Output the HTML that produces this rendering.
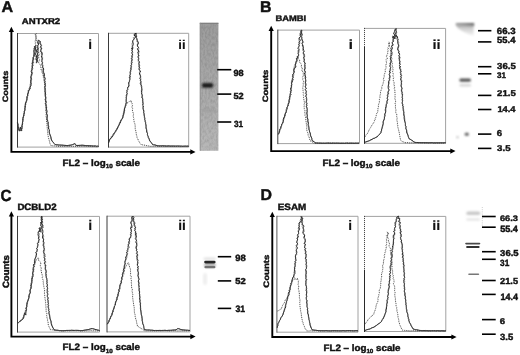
<!DOCTYPE html>
<html><head><meta charset="utf-8"><title>Figure</title>
<style>html,body{margin:0;padding:0;background:#fff;width:520px;height:355px;overflow:hidden}svg{display:block;text-rendering:geometricPrecision}</style>
</head><body>
<svg width="520" height="355" viewBox="0 0 520 355">
<defs>
<filter id="tex" x="0" y="0" width="100%" height="100%" filterUnits="objectBoundingBox"><feTurbulence type="fractalNoise" baseFrequency="0.55 0.3" numOctaves="2" seed="5" result="n"/><feColorMatrix in="n" type="matrix" values="0 0 0 0 0  0 0 0 0 0  0 0 0 0 0  1.6 0 0 0 -0.55" result="m"/><feComposite in="m" in2="SourceGraphic" operator="in"/></filter>
<filter id="bl1" x="-30%" y="-100%" width="160%" height="300%"><feGaussianBlur stdDeviation="0.5"/></filter>
<filter id="bl2" x="-30%" y="-100%" width="160%" height="300%"><feGaussianBlur stdDeviation="0.9"/></filter>
<linearGradient id="gA" x1="0" y1="0" x2="0" y2="1"><stop offset="0" stop-color="#9c9c9c"/><stop offset="0.45" stop-color="#a8a8a8"/><stop offset="1" stop-color="#b8b8b8"/></linearGradient>
<linearGradient id="gBh" x1="0" y1="0" x2="1" y2="0"><stop offset="0" stop-color="#a0a0a0"/><stop offset="0.5" stop-color="#888"/><stop offset="1" stop-color="#666"/></linearGradient>
<linearGradient id="gB" x1="0" y1="0" x2="0" y2="1">
<stop offset="0" stop-color="#b0b0b0"/><stop offset="0.45" stop-color="#d6d6d6"/><stop offset="1" stop-color="#f6f6f6"/></linearGradient>
</defs>
<rect width="520" height="355" fill="#fff"/>
<path d="M11.4 31.3V151.9H191.0" fill="none" stroke="#000" stroke-width="1.9"/>
<path d="M11.4 26.8L8.8 32.0L14.0 32.0Z" fill="#000"/>
<path d="M195.5 151.9L190.3 149.3L190.3 154.5Z" fill="#000"/>
<path d="M17.5 33.5H98.5V147.1H17.5" fill="none" stroke="#a2a2a2" stroke-width="1"/>
<line x1="17.5" y1="33.0" x2="17.5" y2="147.6" stroke="#3a3a3a" stroke-width="1"/>
<path d="M108.5 33.3H188.7V147.1H108.5" fill="none" stroke="#a2a2a2" stroke-width="1"/>
<line x1="108.5" y1="32.8" x2="108.5" y2="147.6" stroke="#3a3a3a" stroke-width="1"/>
<polyline points="17.50,122.00 17.37,123.15 17.98,123.90 17.93,124.98 18.18,126.12 17.93,126.81 18.58,127.97 18.67,128.81 18.96,130.08 19.33,131.17 20.01,129.82 19.69,129.02 20.55,127.95 20.30,126.97 20.43,127.89 20.96,129.00 21.08,129.90 21.32,130.98 21.47,129.82 21.95,129.02 21.93,127.88 22.29,127.14 21.79,125.93 22.33,125.09 22.60,123.97 22.64,123.07 22.35,122.04 22.96,121.15 22.84,120.04 22.63,118.88 23.41,117.96 23.06,117.02 23.67,116.08 23.64,114.97 24.01,114.13 24.27,112.95 24.49,111.77 24.18,111.10 25.15,110.05 24.70,108.83 24.90,108.25 25.26,107.02 25.45,105.86 25.21,105.24 25.54,103.98 25.48,103.03 26.46,101.72 26.54,101.18 26.91,100.14 27.05,99.01 27.00,97.96 26.66,97.22 27.45,95.82 27.59,94.99 27.64,93.91 28.14,93.08 28.53,91.97 28.14,90.83 28.61,90.05 29.94,89.19 30.37,88.20 30.06,87.22 30.95,85.73 30.48,84.68 31.46,83.83 30.65,83.08 30.98,81.71 30.76,81.02 30.80,79.84 31.56,78.97 31.06,77.98 30.73,76.92 31.37,75.78 31.02,75.29 31.68,73.79 31.91,73.23 31.16,71.64 31.43,71.16 31.53,70.16 32.40,69.03 31.80,68.37 32.77,67.01 31.98,66.12 32.34,65.06 32.33,64.10 32.03,62.84 33.59,62.30 32.65,61.29 32.76,60.36 33.59,58.93 32.89,57.59 34.06,56.61 34.09,56.39 33.80,54.72 34.44,54.41 34.29,53.01 33.86,51.87 33.69,51.15 34.24,49.73 33.82,49.15 34.31,48.00 34.52,47.34 35.73,45.56 34.56,46.84 36.07,48.25 35.01,48.74 35.71,50.30 36.26,50.86 36.26,52.16 35.66,53.42 35.32,54.19 35.16,54.72 36.64,55.76 36.47,57.08 36.69,57.89 35.95,58.83 36.90,60.09 37.27,61.32 36.18,62.04 36.37,62.63 36.36,62.30 37.54,61.27 36.86,60.09 37.62,58.90 37.31,57.77 36.53,56.80 37.93,56.05 38.03,54.96 36.97,54.25 37.95,52.58 37.72,51.64 36.79,51.34 36.69,49.77 38.49,48.93 37.06,47.70 37.41,47.22 37.28,46.37 37.90,45.43 39.01,43.81 37.92,42.98 37.75,42.14 38.23,40.14 40.47,41.54 40.21,42.82 40.16,43.60 41.37,45.43 41.59,45.65 40.34,47.11 41.83,48.04 41.42,49.14 40.78,50.04 40.95,50.78 40.65,51.81 42.30,52.95 41.81,54.12 42.38,54.91 41.40,55.85 41.51,57.29 42.55,57.84 41.73,59.06 42.23,60.12 41.79,60.67 41.89,61.74 42.48,62.76 41.83,64.24 42.28,65.38 42.69,66.46 42.27,67.19 43.35,67.89 43.67,68.99 43.51,70.62 43.67,71.14 42.73,72.31 44.14,73.20 44.33,74.14 44.58,75.11 43.98,76.79 44.89,77.84 45.17,78.77 45.00,79.41 44.70,80.44 45.12,81.82 44.56,82.45 45.53,83.99 45.04,84.85 45.46,85.82 44.93,86.79 44.81,87.62 45.33,88.91 45.29,89.72 45.08,90.77 44.86,91.85 45.73,92.94 45.29,94.07 45.15,94.70 45.53,96.00 45.72,96.96 45.80,98.13 45.39,99.00 45.73,99.84 45.73,101.03 46.32,102.23 45.74,103.08 45.59,103.77 46.14,105.20 45.86,106.14 46.66,106.90 46.57,108.18 46.36,109.10 46.79,110.05 46.99,111.20 47.17,112.04 46.56,112.88 46.70,114.03 47.26,114.79 47.28,116.10 47.10,117.01 47.04,118.11 47.04,119.22 47.74,120.06 47.46,121.18 48.14,121.84 48.13,123.15 48.19,124.08 48.17,125.18 48.69,125.95 48.71,126.97 48.46,127.93 48.62,129.16 49.36,129.85 49.31,130.97 49.19,131.92 49.46,133.09 49.51,133.89 50.08,134.83 50.50,136.04 50.93,136.90 50.94,138.01 51.25,139.03 51.56,140.06 52.14,141.10 52.98,141.89 53.50,142.86 54.37,143.65 54.95,144.44 55.83,144.69 56.83,144.77 58.02,144.94 59.12,145.04 59.84,145.00 61.03,145.05 62.00,145.16 63.01,145.12 63.97,145.32 64.92,145.37 66.12,145.52 67.00,145.58 67.95,145.52 68.78,145.34 70.04,145.31 71.15,145.00 72.22,144.79 73.15,144.37 74.11,144.14 74.91,143.50 75.55,144.56 75.94,145.36 76.95,145.43 77.96,145.50 79.04,145.42 80.17,145.37 81.00,145.32 82.06,145.24 83.06,145.25 84.06,145.39 85.19,145.51 86.15,145.58 87.14,145.61 87.93,145.58 89.09,145.83 90.02,145.70 91.21,145.85 92.11,145.77 93.19,146.02 94.22,145.96 95.38,145.91 96.38,146.23 97.52,146.12 98.50,146.20" fill="none" stroke="#1a1a1a" stroke-width="0.95" stroke-linejoin="round"/>
<polyline points="17.50,122.00 17.70,122.87 18.13,124.18 17.90,125.07 17.87,125.89 18.07,127.08 18.16,128.19 18.21,128.88 18.73,130.10 19.42,130.99 19.64,130.05 19.94,128.89 20.20,127.92 20.23,127.13 20.87,128.07 21.25,128.96 21.17,129.97 21.44,131.06 21.29,129.99 21.75,128.94 21.51,128.08 21.61,127.03 21.81,125.81 21.94,124.82 22.02,124.08 22.56,122.94 22.62,121.99 22.67,121.17 22.68,120.16 23.15,119.08 22.76,117.81 22.94,116.93 23.88,116.18 24.04,114.82 24.18,114.13 24.52,113.14 24.18,111.84 24.87,111.12 25.06,109.97 25.17,108.81 25.34,108.20 24.84,106.77 25.15,106.10 25.05,104.76 25.24,104.18 25.30,103.24 25.72,101.84 25.83,101.27 26.93,99.90 26.28,99.09 27.36,97.72 27.30,97.21 27.32,96.04 27.93,94.84 27.54,94.10 28.16,93.02 28.20,92.27 28.45,91.11 29.48,89.94 28.96,88.82 29.46,87.77 29.89,86.90 30.57,85.97 31.31,85.12 31.37,83.91 31.37,83.03 30.69,82.03 30.97,81.12 31.56,79.82 31.18,78.97 31.02,77.67 30.77,77.35 31.82,75.96 31.81,74.83 31.97,74.33 32.16,72.97 32.56,72.31 31.30,70.93 31.97,69.83 32.31,68.73 32.60,68.28 31.65,67.15 32.05,66.11 32.80,65.38 33.08,63.87 33.09,62.72 33.18,61.93 32.58,60.79 32.61,60.24 32.52,58.78 32.79,57.72 33.81,57.07 33.83,56.34 33.60,54.61 33.28,54.01 34.31,53.36 34.09,51.76 34.36,51.38 34.07,50.38 35.24,49.07 34.65,47.67 34.14,46.59 35.20,46.19 35.99,47.09 36.08,47.91 34.65,48.61 35.03,50.03 36.35,50.82 35.14,52.19 35.50,53.05 35.18,54.30 36.57,55.22 36.68,55.86 35.26,56.84 36.78,57.97 35.72,58.71 35.75,59.95 37.22,61.31 37.18,62.21 36.51,63.22 36.60,62.02 36.33,61.32 36.51,60.08 37.42,59.12 37.49,57.89 37.72,57.37 37.47,56.41 37.90,54.62 37.64,53.65 37.66,52.89 38.04,51.60 38.24,50.60 36.72,49.56 36.96,49.43 38.35,48.37 37.31,47.17 38.54,46.21 37.70,45.43 38.67,44.17 37.97,42.90 38.98,42.02 39.08,41.00 39.42,42.07 39.19,42.89 40.89,43.55 40.98,44.80 40.96,46.11 40.19,47.40 40.51,47.67 40.98,48.61 40.50,50.23 40.58,51.04 42.04,51.96 42.00,53.29 40.98,53.64 42.12,55.31 42.32,56.18 41.83,57.38 42.30,58.22 42.67,58.65 42.49,60.11 41.42,60.87 42.64,62.11 42.50,62.94 42.60,64.43 43.35,65.19 43.06,65.85 42.25,67.24 43.39,67.92 42.47,69.24 42.81,69.99 42.70,71.22 43.73,72.06 43.97,73.04 43.41,74.52 43.31,75.32 43.75,76.31 45.00,77.31 45.00,78.89 44.40,79.89 44.55,80.86 44.94,81.61 45.39,82.88 44.69,83.83 44.71,84.68 45.57,86.17 44.64,87.16 45.37,87.61 44.68,88.92 45.67,90.24 44.95,90.97 45.80,91.82 44.89,92.95 45.61,94.23 45.88,94.71 45.14,95.78 45.66,96.94 46.06,98.07 45.80,99.11 45.43,100.23 46.21,101.18 46.19,101.82 45.52,102.93 46.27,103.84 46.49,105.19 46.39,105.99 45.95,107.16 46.07,108.00 46.72,109.07 46.33,110.19 46.50,110.96 46.70,112.10 46.44,113.07 46.93,114.15 46.92,115.03 47.52,115.79 47.46,116.99 47.15,117.90 47.18,119.16 47.27,120.21 47.66,120.91 48.00,122.04 48.22,122.85 48.21,123.80 47.99,124.96 48.23,125.91 48.55,127.10 48.63,128.00 49.06,128.89 49.38,129.82 49.16,131.12 49.26,131.94 49.41,133.17 50.02,133.85 50.14,134.88 50.16,135.90 50.85,137.01 50.94,138.03 51.15,138.95 51.48,140.10 51.94,141.07 52.67,141.85 53.54,142.68 54.27,143.71 54.81,144.41 55.79,144.60 56.83,144.71 57.85,144.81 58.90,144.97 60.14,145.13 60.98,145.21 62.16,145.15 63.21,145.40 63.85,145.41 65.08,145.43 66.09,145.40 67.14,145.60 67.86,145.73 69.10,145.27 69.80,145.10 71.07,145.06 72.19,144.91 72.87,144.31 73.81,143.97 74.96,143.56 75.64,144.58 76.13,145.60 77.12,145.45 77.96,145.41 78.98,145.40 80.15,145.35 80.89,145.27 81.98,145.09 82.83,145.26 84.19,145.41 84.81,145.54 86.10,145.53 86.79,145.52 87.93,145.65 88.84,145.76 90.05,145.84 91.06,145.87 91.96,145.99 93.34,146.05 94.36,145.93 95.22,145.92 96.50,146.20 97.62,146.18 98.50,146.20" fill="none" stroke="#444" stroke-width="0.55" stroke-linejoin="round"/>
<polyline points="17.50,124.00 18.02,125.19 17.74,125.83 18.44,127.09 18.60,127.92 18.81,129.04 19.04,129.87 20.21,130.46 21.62,131.19 21.87,130.02 21.73,128.91 21.63,127.81 22.00,126.93 22.08,126.16 22.30,125.03 22.25,123.80 22.44,122.84 22.68,122.22 22.92,120.86 23.20,120.13 23.23,119.18 23.38,118.13 23.26,117.22 23.84,115.84 23.86,115.10 23.81,114.01 23.98,113.21 24.15,112.16 24.20,111.19 24.78,109.98 24.68,109.22 24.96,107.99 24.72,106.91 25.26,105.82 25.68,104.87 25.94,103.90 26.23,103.11 26.09,102.01 26.46,101.05 26.41,99.83 26.83,99.25 27.18,97.75 27.61,97.13 27.94,95.82 28.03,94.73 28.25,93.86 28.13,93.23 28.31,92.01 29.35,90.84 29.01,90.24 29.52,89.14 29.42,87.91 29.86,87.11 30.06,86.30 30.08,85.15 30.15,83.84 31.09,82.77 30.49,82.13 30.79,80.69 31.55,79.76 30.59,78.89 31.35,78.17 30.89,76.88 30.90,75.96 31.87,75.17 32.15,74.19 32.21,73.15 31.86,71.80 32.20,70.86 31.62,69.96 32.69,68.72 32.44,67.92 32.46,66.72 33.15,65.81 32.80,64.94 32.15,64.05 32.41,62.64 32.38,61.73 32.63,61.11 33.36,60.40 34.11,59.41 33.32,57.95 33.52,57.08 34.21,56.25 34.50,54.79 34.27,54.02 33.84,52.60 34.60,51.66 35.23,50.77 34.37,49.72 34.61,48.75 35.09,47.97 34.83,47.13 34.74,46.37 35.93,45.21 35.18,44.01 35.46,42.58 35.26,42.02 34.94,40.62 35.98,39.87 35.61,39.32 35.84,37.63 36.54,36.63 35.05,35.85 35.26,34.39 36.56,33.67 35.40,34.58 36.25,35.74 36.13,36.96 36.11,37.79 36.73,39.49 36.39,40.38 36.70,41.28 37.15,42.25 37.84,43.26 36.99,44.08 37.06,45.82 38.05,47.00 38.26,47.24 38.34,49.00 38.56,49.83 38.16,50.88 38.93,51.80 38.60,53.02 39.27,54.34 39.29,55.41 38.46,55.93 38.78,57.00 38.76,58.39 39.49,59.35 39.41,59.99 38.85,61.76 38.63,62.33 39.00,63.27 40.55,65.19 40.69,65.71 40.49,66.79 41.22,68.14 41.17,69.02 41.02,70.03 42.30,71.19 41.51,72.01 42.51,72.82 42.97,73.97 42.99,74.93 43.58,76.20 43.33,76.75 43.43,77.67 43.86,79.27 43.64,80.01 44.06,80.93 44.40,82.30 44.47,82.98 44.83,83.89 44.68,85.11 44.78,86.23 44.30,87.08 44.57,88.11 45.24,89.09 44.34,89.98 45.13,91.24 45.15,92.20 44.58,93.27 45.32,94.06 45.53,95.23 44.83,96.19 45.50,96.82 45.52,98.05 45.07,99.18 45.08,100.06 45.39,100.86 45.56,101.98 45.30,103.26 45.24,103.73 45.64,105.18 45.83,106.14 45.74,107.09 45.67,107.88 45.85,108.76 45.57,110.13 45.70,111.13 46.21,111.95 46.20,113.14 46.40,113.82 45.96,114.94 46.24,115.90 45.99,117.03 46.72,117.94 46.49,118.95 46.50,120.17 46.48,121.07 46.66,122.02 46.99,122.82 47.00,123.92 46.95,125.12 47.02,125.96 47.20,126.84 47.21,127.96 47.29,129.14 47.57,130.05 47.44,130.90 47.66,131.90 47.71,133.17 47.76,134.11 48.03,134.95 48.14,135.85 48.34,136.89 48.47,137.93 48.99,139.21 49.10,140.19 49.62,141.16 49.60,142.21 49.95,143.41 50.34,144.39 50.81,145.42 51.84,145.63 52.73,145.77 53.74,145.87 54.99,145.86 55.93,146.07 56.99,146.10 58.06,146.25 59.06,146.35 59.93,146.33 61.07,146.27 61.99,146.22 63.20,146.27 64.04,146.43 64.96,146.46 65.95,146.20 67.04,146.30 68.25,146.45 69.21,146.33 70.15,146.28 71.26,146.33 72.08,146.40 73.05,146.32 74.33,146.26 75.07,146.30 76.12,146.36 77.14,146.35 78.15,146.32 79.29,146.35 80.22,146.48 81.12,146.31 82.41,146.40 83.40,146.32 84.32,146.52 85.27,146.51 86.38,146.41 87.53,146.41 88.36,146.48 89.32,146.55 90.43,146.48 91.42,146.60 92.59,146.56 93.42,146.45 94.46,146.35 95.32,146.62 96.34,146.61 97.55,146.61 98.50,146.50" fill="none" stroke="#3a3a3a" stroke-width="0.95" stroke-dasharray="1 0.9"/>
<polyline points="108.50,143.00 108.74,142.01 109.17,141.03 109.66,139.86 110.14,139.11 111.07,137.91 112.27,136.99 112.76,136.11 113.22,135.11 113.79,134.47 114.30,133.54 114.96,132.41 115.59,131.72 115.87,130.62 116.74,129.82 117.15,129.01 117.65,128.07 117.93,127.05 118.46,126.14 119.27,124.83 119.22,123.88 120.32,122.97 120.55,121.91 120.95,120.95 121.31,120.04 121.98,119.18 122.55,118.20 122.96,117.23 123.07,115.84 123.50,115.22 123.80,114.03 123.90,112.86 124.27,112.04 124.04,110.78 124.83,110.25 124.36,109.04 124.91,107.58 125.05,106.79 125.87,105.29 125.87,104.17 126.22,103.21 126.48,102.50 126.17,101.45 126.05,99.86 126.44,98.76 126.09,97.91 126.62,96.70 126.07,96.05 126.45,95.04 127.21,93.63 126.79,92.65 127.09,91.63 127.07,90.58 127.90,89.40 127.64,88.44 127.75,87.07 129.04,86.11 128.86,84.68 128.84,83.99 128.47,82.95 129.42,81.51 129.57,80.73 129.79,79.58 129.98,78.79 129.19,77.25 130.25,76.83 129.77,75.42 130.37,74.27 130.16,73.21 130.29,72.37 130.31,71.16 131.12,69.84 130.94,69.33 130.67,67.89 131.54,66.85 130.72,65.95 131.59,64.69 131.08,63.87 131.97,62.95 132.09,61.73 131.34,61.12 132.31,59.96 131.31,58.69 131.89,57.74 132.43,57.28 131.47,55.81 132.56,55.12 132.60,53.87 131.48,52.82 132.67,51.80 131.93,50.93 132.10,49.92 133.03,48.69 131.43,48.40 133.05,47.44 132.28,46.41 133.33,44.75 133.15,44.31 133.15,43.02 132.60,41.85 132.64,40.59 133.47,39.80 134.29,38.57 134.88,38.19 135.32,37.38 135.52,36.07 134.01,35.24 134.55,33.80 136.12,33.32 135.93,35.08 136.62,35.85 136.14,37.35 136.81,38.27 136.79,38.71 137.37,40.30 136.83,41.27 138.39,42.29 138.35,42.54 138.14,44.33 137.14,44.79 137.60,46.02 137.95,46.98 138.65,47.55 137.42,48.67 137.61,49.62 139.17,51.31 137.68,52.00 138.14,52.91 138.26,54.27 138.71,55.10 138.10,56.15 138.05,57.41 139.08,58.34 138.10,59.24 138.63,60.67 139.34,61.56 139.42,62.83 138.89,63.70 139.09,64.98 139.08,65.99 139.24,66.65 139.45,68.02 138.86,68.83 139.49,70.19 140.34,70.82 140.38,72.15 139.56,72.92 139.46,74.20 140.33,75.26 140.61,76.12 140.62,77.05 139.85,78.06 139.83,78.75 140.97,79.68 140.16,80.72 141.30,81.78 140.28,83.23 140.51,84.23 141.32,85.22 141.77,86.05 141.67,86.70 141.72,88.01 141.75,88.75 141.88,90.28 141.15,90.89 141.84,92.20 141.55,92.80 141.66,94.07 142.33,94.94 141.98,95.94 142.06,96.95 141.86,98.00 142.92,98.95 142.76,99.81 142.80,101.14 142.88,102.01 142.78,103.08 143.30,103.81 142.60,105.13 143.51,106.01 143.14,107.12 143.00,107.88 143.12,109.04 143.33,109.86 143.84,111.28 143.64,112.21 143.91,113.34 144.23,114.11 144.08,115.05 144.46,116.27 144.37,117.32 144.66,118.56 144.69,119.71 145.12,120.59 145.28,121.75 145.69,122.67 145.59,123.79 146.01,124.71 146.07,125.99 146.03,126.74 146.02,127.99 146.47,129.13 146.73,129.90 146.55,130.96 146.81,132.18 147.47,133.30 147.36,134.33 147.64,135.22 148.13,136.16 148.18,137.35 148.69,138.13 149.24,139.18 149.35,140.01 149.97,141.00 150.51,141.90 151.52,142.72 151.97,143.51 152.50,144.55 153.51,144.87 154.94,144.90 156.03,145.24 157.04,145.61 157.91,145.85 159.07,145.90 159.90,145.91 161.20,145.90 162.02,145.76 163.00,145.84 164.09,145.95 165.03,145.83 166.06,145.97 166.86,146.06 168.07,145.86 169.18,145.88 169.93,146.06 171.08,146.03 172.14,146.01 173.04,145.94 173.97,146.11 175.30,146.07 176.34,146.03 177.17,146.04 178.47,145.96 179.35,146.03 180.50,146.07 181.36,146.09 182.48,146.21 183.44,146.24 184.38,146.09 185.41,146.06 186.74,146.24 187.53,146.10 188.70,146.20" fill="none" stroke="#1a1a1a" stroke-width="0.95" stroke-linejoin="round"/>
<polyline points="108.50,143.00 109.10,141.99 109.34,141.07 109.45,139.86 110.45,138.88 111.14,138.13 112.21,136.87 112.34,136.02 113.33,135.06 113.55,134.20 114.06,133.47 114.66,132.54 115.57,131.77 115.95,130.91 116.55,129.96 116.83,128.82 117.55,128.08 118.08,126.92 118.32,125.88 118.80,125.20 119.77,124.17 119.99,123.09 120.30,121.99 120.67,120.96 121.23,119.82 122.25,118.82 122.66,118.09 122.32,116.99 123.34,116.23 123.24,115.13 123.63,113.90 123.76,113.05 123.88,112.16 124.19,111.13 124.10,109.97 124.32,108.96 125.36,107.79 125.31,106.71 125.23,105.47 125.83,104.50 125.88,103.29 125.91,102.26 126.35,101.07 126.45,100.30 126.37,99.31 126.21,98.21 126.15,96.82 126.94,95.55 126.80,94.99 127.26,93.81 126.65,92.53 127.07,91.30 126.43,90.74 127.51,89.19 127.63,88.16 128.54,87.06 128.72,86.26 128.57,84.84 128.98,83.87 129.22,82.76 129.64,81.76 128.91,80.94 130.08,79.81 129.76,78.89 130.45,77.21 129.98,76.15 129.89,75.26 130.18,74.53 130.88,73.17 129.77,72.67 131.01,71.29 130.15,69.86 131.49,69.17 131.50,68.32 131.46,67.29 130.82,65.80 131.18,65.21 131.82,64.20 131.57,62.98 131.03,62.13 131.85,61.01 132.05,60.39 132.49,58.68 131.49,58.09 132.24,56.82 132.72,55.97 132.49,54.62 131.70,53.59 132.62,53.02 132.95,52.09 131.89,50.87 132.02,49.73 131.58,49.13 131.99,47.96 132.74,46.80 132.29,45.84 132.23,45.15 131.96,43.91 132.12,43.16 132.62,42.43 133.12,41.15 133.35,40.30 134.08,39.13 133.20,37.66 134.99,36.92 135.67,36.13 135.60,35.24 136.12,34.15 136.67,33.23 135.64,34.27 135.92,36.38 136.93,36.56 135.94,37.96 137.16,38.87 136.39,39.77 138.16,41.21 138.20,41.78 138.06,42.72 137.53,44.42 137.44,44.81 137.51,46.33 138.43,47.08 138.78,47.97 138.95,49.25 137.92,49.77 138.40,50.95 138.90,52.13 138.87,53.16 138.11,54.35 139.38,55.33 138.97,56.07 138.04,57.32 138.88,58.63 138.74,59.55 138.17,60.21 138.28,61.51 138.54,62.44 138.75,63.67 139.60,65.16 139.96,66.02 138.55,66.65 140.16,68.02 140.04,68.65 139.21,69.60 139.74,70.82 139.76,71.66 139.21,72.87 140.61,74.08 140.20,74.67 140.11,75.91 140.48,76.93 140.81,77.84 140.81,78.65 140.12,80.21 141.17,80.86 140.40,82.31 141.02,82.72 141.63,84.04 140.84,85.00 141.04,86.05 141.19,86.92 141.68,87.87 141.89,89.16 142.11,89.78 142.10,91.13 141.39,92.26 141.86,92.80 141.61,94.30 142.38,94.84 142.57,95.72 142.44,97.08 142.72,98.24 142.66,99.20 142.46,100.25 142.53,101.13 142.96,101.95 143.13,103.12 142.56,104.05 142.99,105.05 142.64,106.11 143.10,107.12 143.05,107.75 143.37,109.07 143.76,110.02 144.01,110.89 143.49,112.06 144.13,113.29 143.78,114.27 144.19,115.29 144.14,116.17 144.76,117.31 145.20,118.44 144.85,119.35 145.16,120.55 145.11,121.80 145.46,122.77 145.74,123.84 145.46,124.94 145.97,125.66 146.12,126.67 146.15,127.74 146.05,128.93 146.72,130.10 147.03,131.16 147.07,132.14 147.53,133.02 147.51,134.22 147.47,135.38 148.10,136.24 148.56,137.23 148.92,138.20 149.39,139.12 149.39,140.14 149.87,141.02 150.86,141.94 151.10,142.85 152.16,143.61 152.49,144.49 153.69,144.63 154.91,145.06 155.80,145.37 156.78,145.65 158.15,145.79 158.83,145.80 159.83,145.85 160.85,145.86 161.96,145.82 163.04,145.89 164.16,145.88 165.03,145.98 165.86,145.94 166.86,145.95 168.00,146.08 169.20,145.93 170.15,145.96 170.93,146.04 171.99,146.15 173.29,145.90 174.36,146.15 175.04,146.10 176.26,145.97 177.36,145.94 178.25,146.09 179.48,146.07 180.30,146.10 181.44,146.09 182.30,146.23 183.38,146.06 184.42,146.29 185.40,146.20 186.65,146.10 187.78,146.10 188.70,146.20" fill="none" stroke="#444" stroke-width="0.55" stroke-linejoin="round"/>
<polyline points="108.50,142.00 108.76,140.88 109.19,139.89 109.41,138.97 110.37,138.28 110.88,137.27 111.36,136.47 111.77,135.59 112.37,135.06 113.25,134.20 113.82,133.16 114.16,132.50 114.96,131.77 115.62,130.66 116.06,130.07 116.46,128.98 116.90,128.05 117.62,127.47 117.86,126.35 118.53,125.57 118.97,124.79 119.21,123.71 119.72,122.83 119.90,121.88 120.77,120.87 120.73,120.23 121.34,119.30 121.92,118.32 122.74,117.36 122.60,116.35 123.01,115.37 123.07,114.58 123.30,113.47 123.99,112.23 123.61,111.28 124.40,110.46 124.25,109.30 124.46,108.35 124.60,107.46 125.55,106.58 125.68,105.58 125.34,104.20 126.40,103.45 126.92,103.11 128.10,102.61 128.82,101.83 130.25,101.10 131.50,100.86 131.57,101.35 131.43,102.47 132.18,103.60 131.87,104.48 132.56,105.68 132.04,106.52 132.03,107.60 132.64,108.62 132.29,109.86 132.61,111.18 132.67,112.01 133.30,113.02 133.60,114.12 133.22,115.16 133.23,116.23 133.53,117.51 134.07,118.40 133.69,119.36 133.98,120.40 134.13,121.76 134.23,122.46 134.86,123.73 135.05,124.71 135.14,125.86 135.22,126.95 135.20,127.74 135.19,129.10 135.72,130.16 135.60,131.06 136.03,132.05 136.22,133.01 136.33,134.07 136.33,135.15 136.84,135.85 137.03,137.16 137.08,137.85 137.70,138.81 138.26,139.91 138.40,140.68 139.17,141.74 139.74,142.77 140.06,143.42 140.86,144.36 141.87,144.59 142.88,144.98 143.94,145.11 144.97,145.21 145.93,145.45 147.04,145.78 147.92,145.91 148.80,145.97 150.03,146.30 151.15,146.34 151.91,146.27 153.15,146.32 153.90,146.42 155.21,146.21 156.13,146.30 157.23,146.28 158.05,146.34 159.33,146.23 160.05,146.39 161.34,146.36 162.20,146.46 163.34,146.25 164.39,146.29 165.21,146.47 166.27,146.47 167.20,146.49 168.22,146.30 169.35,146.35 170.38,146.52 171.46,146.27 172.34,146.43 173.42,146.48 174.44,146.31 175.37,146.53 176.43,146.51 177.67,146.48 178.58,146.48 179.47,146.57 180.54,146.57 181.50,146.57 182.69,146.50 183.59,146.37 184.72,146.44 185.70,146.38 186.52,146.39 187.79,146.40 188.70,146.50" fill="none" stroke="#3a3a3a" stroke-width="0.95" stroke-dasharray="1 0.9"/>
<rect x="199.8" y="22.8" width="18.6" height="128" fill="url(#gA)"/>
<rect x="199.8" y="22.8" width="18.6" height="128" fill="#000" filter="url(#tex)" opacity="0.13"/>
<rect x="199.8" y="22.8" width="18.6" height="1.2" fill="#808080"/>
<rect x="199.8" y="22.8" width="0.8" height="128" fill="#909090"/>
<rect x="201.8" y="83.1" width="11.5" height="4.6" rx="2.0" fill="#1e1e1e" opacity="1.00" filter="url(#bl2)"/>
<rect x="201.0" y="109.9" width="15.0" height="1.6" rx="0.8" fill="#959595" opacity="1.00" filter="url(#bl2)"/>
<line x1="217.2" y1="69.7" x2="231.3" y2="69.7" stroke="#000" stroke-width="1.6"/>
<line x1="217.2" y1="94.1" x2="231.3" y2="94.1" stroke="#000" stroke-width="1.6"/>
<line x1="217.2" y1="122.0" x2="231.3" y2="122.0" stroke="#000" stroke-width="1.6"/>
<path d="M271.2 30.3V151.1H451.0" fill="none" stroke="#000" stroke-width="1.9"/>
<path d="M271.2 25.8L268.6 31.0L273.8 31.0Z" fill="#000"/>
<path d="M455.5 151.1L450.3 148.5L450.3 153.7Z" fill="#000"/>
<path d="M277.8 30.1H359.5V143.6H277.8" fill="none" stroke="#a2a2a2" stroke-width="1"/>
<line x1="277.8" y1="29.6" x2="277.8" y2="144.1" stroke="#3a3a3a" stroke-width="1"/>
<path d="M364.5 28.4H445.6V143.3H364.5" fill="none" stroke="#a2a2a2" stroke-width="1"/>
<line x1="364.5" y1="27.9" x2="364.5" y2="47.0" stroke="#333" stroke-width="1" stroke-dasharray="1 1"/>
<line x1="364.5" y1="47.0" x2="364.5" y2="143.8" stroke="#2a2a2a" stroke-width="1"/>
<polyline points="278.40,134.40 278.87,133.29 279.38,132.16 279.75,131.03 279.69,129.74 280.70,128.68 281.07,127.35 281.18,126.40 281.63,125.53 281.65,124.38 282.24,123.68 282.92,122.25 283.27,121.14 283.45,120.03 283.28,119.27 283.76,117.87 284.72,117.13 284.46,116.14 284.99,114.96 285.02,114.05 285.77,113.03 286.32,111.63 286.21,110.50 286.37,109.38 286.88,108.59 286.95,107.56 287.64,106.30 288.38,105.31 288.14,104.24 288.80,102.93 289.34,101.83 289.38,101.22 288.86,100.11 289.49,98.92 289.36,97.54 289.70,96.95 289.87,95.72 290.86,94.72 290.35,93.25 290.71,92.40 290.38,91.27 291.36,90.23 290.58,89.26 290.78,87.84 291.57,87.19 291.37,86.17 291.77,84.73 291.62,83.61 291.45,82.56 292.43,82.07 291.91,80.35 293.21,79.62 292.60,78.35 293.05,77.70 293.04,76.34 292.66,75.63 292.80,74.26 294.14,72.93 294.17,72.47 294.21,71.28 293.62,69.95 293.91,69.26 294.36,67.96 295.68,67.27 295.88,65.96 295.37,65.18 295.59,63.83 295.71,62.72 295.90,62.39 297.16,61.05 296.73,59.75 296.37,58.64 297.82,58.08 297.44,56.95 298.45,55.82 298.58,54.82 298.14,53.72 298.07,52.48 299.00,51.60 298.24,50.77 298.94,49.39 297.88,48.30 298.38,47.36 298.83,46.44 299.25,45.37 298.77,44.17 299.57,43.29 298.92,42.25 299.97,41.05 300.26,40.24 299.46,38.78 298.85,38.02 300.60,36.50 300.38,35.56 300.71,33.85 301.06,33.08 301.16,31.96 301.41,31.34 301.77,30.32 300.66,30.90 301.58,32.50 301.24,33.67 302.16,34.17 301.94,35.48 301.23,36.52 301.85,37.69 301.75,38.68 302.41,40.13 302.83,41.44 302.27,42.86 301.97,43.51 302.57,44.55 302.35,45.96 302.91,46.27 303.42,47.35 303.37,48.60 303.51,50.18 304.01,50.73 304.07,51.95 303.38,52.55 303.85,53.94 304.54,55.31 304.03,55.82 304.58,56.55 303.35,58.05 304.26,58.70 304.36,60.32 304.03,60.94 303.86,61.83 305.12,62.90 305.17,64.33 304.67,64.81 305.34,66.00 304.55,66.86 305.48,67.99 304.50,68.98 304.34,70.09 304.87,70.86 305.42,72.28 304.35,73.08 304.79,74.40 305.56,74.91 304.89,75.87 305.94,76.99 305.47,78.13 305.57,79.24 305.75,79.93 305.82,81.07 305.57,82.12 305.32,83.27 305.59,84.17 306.00,85.35 305.15,86.14 305.74,87.59 306.32,88.37 305.31,89.54 305.86,90.43 306.25,91.48 306.03,92.67 305.96,93.37 306.55,94.27 305.96,95.67 305.75,96.69 306.50,97.47 306.10,98.70 306.82,99.35 306.41,100.60 306.47,101.50 306.17,102.66 306.89,103.39 306.35,104.82 306.96,105.75 306.25,106.80 307.22,107.97 307.00,108.49 307.18,109.60 307.04,110.99 307.14,111.60 306.82,113.01 306.80,113.88 307.15,114.68 307.44,115.65 307.12,116.83 307.21,117.71 307.73,119.04 308.08,119.79 307.84,120.90 308.08,122.00 308.50,123.07 308.02,124.34 308.27,125.44 308.69,126.68 308.89,127.69 308.87,128.79 309.04,130.00 309.48,130.78 309.57,131.89 310.14,132.83 310.39,134.02 310.29,135.04 310.57,135.87 311.25,137.06 311.80,138.29 311.91,139.55 312.16,140.67 312.98,141.09 314.22,141.86 314.67,142.28 315.82,143.05 316.85,142.94 317.86,143.06 318.78,143.10 320.05,143.15 320.95,143.09 322.15,143.24 323.14,143.18 324.16,143.21 325.04,143.22 326.11,143.17 326.81,143.06 327.86,143.06 329.18,143.19 330.12,143.05 330.99,143.32 332.06,143.18 332.98,143.08 333.84,143.10 334.94,143.17 336.18,143.10 336.89,143.13 337.84,143.14 338.88,143.19 339.78,143.33 340.94,143.33 342.09,143.25 342.99,143.33 343.82,143.25 344.90,143.25 346.11,143.10 346.86,143.06 347.87,143.07 348.95,143.34 349.94,143.14 350.99,143.13 352.11,143.27 352.84,143.12 354.08,143.33 355.07,143.18 356.22,143.05 356.80,143.28 357.96,143.06 359.00,143.20" fill="none" stroke="#1a1a1a" stroke-width="0.95" stroke-linejoin="round"/>
<polyline points="278.40,134.40 279.03,133.15 279.38,132.17 279.48,130.98 279.89,129.62 280.30,128.72 280.56,127.56 281.10,126.37 281.55,125.45 281.97,124.66 282.71,123.38 283.09,122.45 283.39,121.44 283.38,120.09 284.02,119.33 284.10,117.82 284.59,117.08 284.96,116.14 285.37,114.99 285.19,113.86 285.60,112.93 286.08,111.90 286.35,110.71 287.13,109.75 287.48,108.64 287.07,107.42 287.60,106.27 287.69,105.12 288.31,104.40 288.96,103.43 288.94,101.83 288.79,100.78 289.77,99.85 289.88,98.85 289.99,98.01 290.23,96.43 290.37,95.49 290.92,94.32 290.23,93.60 290.58,91.97 291.20,91.38 290.99,89.79 291.59,88.87 290.97,87.65 291.90,86.74 291.09,85.80 291.97,85.19 291.48,83.91 291.70,83.05 292.17,81.86 292.82,80.69 292.51,79.26 292.28,78.67 293.28,77.52 292.47,76.58 293.78,75.59 293.82,74.39 293.43,73.10 293.38,72.24 293.78,71.30 293.80,69.82 293.82,68.83 295.10,68.25 295.55,66.64 295.44,66.05 295.15,65.35 295.91,63.85 296.39,62.95 296.05,61.98 296.37,60.56 297.25,59.72 296.96,58.56 297.47,57.41 296.89,56.47 298.62,55.81 298.68,54.25 298.29,53.75 298.87,52.44 297.79,51.33 299.39,50.72 298.88,49.19 298.93,48.33 298.76,47.52 299.02,45.78 299.40,45.28 298.31,44.06 300.01,43.12 299.53,41.90 299.13,41.33 298.93,39.78 298.65,38.77 299.81,37.88 300.68,36.30 299.43,35.21 299.92,34.58 299.92,32.97 301.82,31.94 301.08,30.99 301.15,29.92 302.27,30.75 300.84,32.66 302.24,33.41 301.86,34.59 301.52,35.68 301.82,36.96 301.88,38.09 301.46,39.59 301.55,40.21 302.39,41.01 303.64,42.43 302.32,43.44 302.41,44.67 303.97,46.08 302.65,46.88 303.33,47.95 302.68,48.34 302.70,50.13 302.67,50.40 303.46,51.45 303.05,53.25 303.14,54.11 304.35,54.88 303.75,55.70 303.63,57.00 304.12,58.03 303.85,59.32 304.08,59.90 304.19,61.28 304.47,62.20 304.89,62.88 304.80,63.68 304.50,64.97 304.43,65.74 305.14,66.88 304.59,67.71 305.37,69.28 304.43,69.92 304.64,70.79 305.49,72.12 305.65,73.20 304.87,74.28 304.61,75.16 305.24,75.81 304.97,77.15 304.80,77.86 305.53,79.50 305.54,80.54 305.46,80.94 305.09,82.20 306.07,83.46 306.24,84.33 306.01,85.32 305.32,86.33 305.51,87.53 306.23,88.16 305.45,89.23 305.37,90.19 306.54,91.66 305.97,92.66 305.74,93.74 306.22,94.53 305.94,95.18 306.28,96.57 306.51,97.68 306.80,98.26 306.58,99.32 306.80,100.59 305.96,101.53 306.88,102.82 307.00,103.64 306.81,104.75 306.66,105.81 306.39,106.54 306.87,107.83 307.26,108.50 307.32,109.64 306.78,110.86 307.40,111.63 306.90,113.00 307.41,113.78 307.02,114.99 307.08,115.80 307.04,116.76 307.51,117.91 307.88,118.99 307.56,119.91 307.69,120.82 307.74,122.20 308.39,123.28 308.50,124.16 308.69,125.40 308.89,126.55 308.95,127.49 309.27,128.85 309.24,129.81 309.57,130.88 309.56,132.03 310.12,133.06 310.56,133.93 310.59,134.83 310.89,136.11 311.16,136.99 311.71,138.26 311.84,139.53 312.35,140.60 313.25,141.19 314.09,141.73 314.67,142.39 315.74,142.95 316.55,142.98 317.73,142.99 318.89,143.17 320.23,143.08 320.89,143.10 321.94,143.31 322.84,143.20 323.97,143.30 325.03,143.35 326.17,143.33 327.13,143.08 327.82,143.34 328.85,143.07 330.05,143.23 330.85,143.18 331.96,143.19 332.93,143.09 334.07,143.15 335.17,143.35 335.78,143.28 337.11,143.14 338.04,143.14 339.17,143.15 340.07,143.13 341.17,143.12 342.21,143.10 342.96,143.26 343.95,143.29 344.85,143.35 346.01,143.32 346.85,143.17 348.00,143.33 349.23,143.17 349.95,143.15 350.80,143.09 352.12,143.08 353.15,143.18 353.86,143.14 354.83,143.24 355.89,143.23 356.98,143.24 357.81,143.27 359.00,143.20" fill="none" stroke="#444" stroke-width="0.55" stroke-linejoin="round"/>
<polyline points="278.40,133.50 278.95,132.54 279.19,131.24 279.33,130.31 279.98,129.27 280.33,128.19 280.67,127.12 281.34,125.96 281.62,125.08 281.81,124.02 282.59,122.90 282.91,122.03 283.26,120.83 283.09,119.98 283.88,118.78 283.72,117.61 284.41,116.60 284.96,115.69 284.74,114.67 285.18,113.76 285.90,112.51 286.08,111.52 286.57,110.57 286.33,109.18 287.15,108.06 287.51,106.87 288.11,106.01 287.74,105.03 288.17,103.71 288.57,102.61 288.60,101.95 289.29,100.41 289.62,99.35 289.49,98.80 290.01,97.39 289.92,96.37 289.82,95.67 289.89,94.27 290.69,93.19 291.06,92.03 291.20,91.37 291.03,90.31 290.95,89.21 291.42,87.99 291.19,87.08 291.24,85.65 291.71,84.74 291.55,84.07 291.32,82.53 291.37,81.89 291.75,80.63 292.04,80.12 292.00,78.77 292.91,77.93 292.39,76.85 292.83,75.63 292.90,74.77 293.60,73.80 293.62,73.29 294.13,71.87 293.94,70.85 293.87,69.99 294.57,69.33 294.14,67.62 294.54,66.66 294.20,66.21 294.50,65.17 295.13,64.38 296.09,62.72 295.52,62.46 296.40,61.07 296.94,60.42 296.86,59.17 296.63,58.12 297.00,57.37 297.95,56.00 298.40,56.89 298.11,58.27 299.02,59.41 299.67,60.17 299.34,61.39 299.63,62.34 301.06,63.69 301.37,64.44 301.45,65.83 300.99,67.01 302.22,67.69 302.30,68.76 301.92,70.03 301.91,71.16 303.28,71.84 303.27,72.71 303.20,73.88 303.36,75.01 303.34,75.75 302.41,77.33 303.08,78.15 302.43,78.92 302.85,79.86 303.58,81.37 303.56,82.35 302.94,82.95 303.39,83.99 303.23,85.25 303.21,86.02 302.81,87.33 302.81,88.35 302.97,89.22 303.01,90.42 303.29,91.23 303.20,92.46 303.94,93.39 303.29,94.35 303.44,95.52 304.02,96.54 303.54,97.41 303.79,98.50 303.88,99.84 304.09,100.66 304.30,101.67 304.45,102.54 304.40,103.89 304.05,104.72 304.30,105.43 304.10,106.82 304.23,107.82 304.30,108.66 304.32,109.76 304.98,110.62 304.88,111.99 304.75,112.79 305.19,114.00 304.91,114.92 305.00,115.68 305.72,116.68 305.80,118.03 305.75,119.04 305.85,119.86 305.84,120.85 306.23,122.12 306.32,123.01 306.34,124.15 306.60,125.49 306.86,126.60 306.82,127.75 306.63,128.81 306.75,129.85 307.05,131.09 307.26,132.09 307.98,132.93 308.16,133.81 308.08,134.81 308.30,135.83 309.08,137.01 309.39,138.22 309.62,139.42 310.07,140.75 311.10,141.28 312.13,141.94 313.04,142.48 313.86,143.32 314.88,143.18 316.12,143.22 317.17,143.29 318.01,143.09 319.04,143.19 320.14,143.21 321.08,143.29 321.99,143.30 323.16,143.10 324.16,143.31 325.14,143.15 325.90,143.09 326.95,143.31 327.95,143.05 328.92,143.07 330.05,143.28 331.17,143.08 331.95,143.09 333.16,143.30 334.01,143.34 335.01,143.28 336.00,143.16 337.19,143.30 338.04,143.31 339.06,143.29 339.83,143.09 340.85,143.23 342.09,143.10 343.00,143.08 344.07,143.28 344.84,143.34 346.06,143.09 346.94,143.10 348.09,143.33 348.87,143.11 350.05,143.31 351.09,143.19 351.85,143.23 352.98,143.29 354.03,143.27 355.18,143.24 356.16,143.13 356.81,143.31 357.82,143.35 359.00,143.20" fill="none" stroke="#3a3a3a" stroke-width="0.95" stroke-dasharray="1 0.9"/>
<polyline points="364.80,142.60 365.71,141.89 366.92,141.49 367.92,141.21 368.73,140.88 369.77,140.48 370.88,139.74 372.16,139.34 373.10,138.51 374.29,138.35 375.19,137.77 376.34,137.25 377.20,136.93 377.58,136.05 378.45,135.47 379.15,134.57 380.20,133.67 380.93,132.74 380.85,131.81 381.47,130.90 381.46,129.98 381.78,128.88 382.24,128.05 382.09,127.02 382.52,126.15 382.89,124.90 383.29,123.82 383.10,123.08 383.11,121.96 383.24,121.02 384.03,119.97 384.34,118.85 384.42,117.96 384.55,116.89 384.99,116.11 384.84,114.98 384.65,114.00 385.32,113.14 385.65,111.79 385.42,110.98 385.24,109.88 385.54,108.70 385.60,108.04 385.82,106.77 386.24,106.10 386.09,104.87 386.73,104.11 387.17,103.10 386.78,101.85 387.02,101.12 387.82,99.70 387.15,98.75 387.31,97.84 387.81,96.66 387.26,95.70 387.77,94.74 388.55,93.77 388.15,92.67 388.45,91.27 388.82,90.68 388.90,89.64 388.42,88.34 388.17,87.44 388.22,86.02 388.50,85.03 388.77,83.90 388.43,82.91 388.66,82.01 388.66,81.31 389.55,79.76 389.13,78.85 389.35,77.64 390.08,77.22 389.62,75.81 389.15,74.49 389.57,73.56 390.34,72.44 389.24,71.98 390.04,70.33 390.13,69.20 390.18,68.88 390.75,67.62 389.90,66.32 389.82,65.59 390.45,64.55 390.20,63.07 391.03,62.64 391.17,61.45 391.19,60.31 390.31,59.04 390.59,57.54 390.12,56.66 390.58,55.92 391.84,54.62 391.89,54.00 392.01,52.37 390.81,51.16 390.94,50.08 391.86,49.64 392.42,48.21 392.26,47.44 391.40,46.26 393.08,45.32 392.96,43.98 392.01,43.27 392.41,42.28 393.73,40.90 392.76,40.42 393.49,38.69 392.45,37.67 394.08,37.30 392.71,36.32 394.73,37.15 393.91,38.05 393.89,38.54 395.39,38.14 394.41,37.42 394.11,36.36 394.76,34.72 393.51,33.80 393.89,33.08 394.32,31.92 394.47,31.40 395.21,29.66 395.97,28.80 395.84,30.01 396.20,30.83 396.45,31.53 396.16,32.69 395.18,34.29 395.39,34.97 396.36,36.05 395.46,37.02 396.41,36.28 396.02,35.06 396.47,35.78 397.65,37.01 397.40,38.25 398.23,38.95 397.81,40.01 397.72,41.20 397.71,42.06 397.86,43.45 398.37,44.40 398.91,44.85 398.31,46.49 398.91,46.77 397.72,48.06 397.74,48.88 397.85,50.27 399.20,51.48 398.20,52.32 399.18,52.83 399.65,54.55 398.63,55.54 399.03,56.15 400.12,57.45 398.84,58.12 399.53,59.05 399.11,60.04 400.06,60.81 399.89,62.16 399.14,63.08 400.19,64.23 399.42,65.61 400.64,66.60 399.70,67.06 399.70,68.46 400.16,68.97 400.48,70.58 401.17,71.09 400.29,72.59 401.00,73.43 400.41,73.97 401.37,75.25 400.55,76.73 401.39,77.75 400.68,78.90 400.72,80.02 401.29,80.77 401.47,82.29 401.16,82.78 401.55,83.89 401.08,84.88 401.07,85.94 401.47,87.05 402.08,88.07 401.82,89.04 401.70,89.98 401.64,91.01 402.27,92.38 401.70,93.37 402.62,94.18 402.54,95.41 402.23,96.69 402.18,97.53 402.56,98.84 402.25,99.79 402.70,100.71 402.44,101.58 402.14,102.50 402.29,103.86 402.61,104.57 402.57,105.96 403.47,106.90 403.03,107.70 403.17,108.84 403.17,109.86 403.40,111.15 404.17,111.97 403.65,113.20 403.83,113.93 403.70,114.97 404.23,116.06 404.13,117.08 404.11,118.00 404.31,119.09 404.40,119.95 404.74,121.07 405.08,122.23 405.33,123.31 405.43,124.43 405.32,125.23 405.97,126.26 406.01,127.56 405.78,128.73 406.57,129.75 406.69,130.92 406.55,131.91 407.00,133.12 407.55,134.05 407.78,135.01 408.20,135.87 408.32,136.57 408.63,137.62 408.99,138.71 410.18,139.29 411.16,139.96 412.04,140.39 413.15,141.28 413.95,141.86 414.98,142.37 416.02,142.45 416.72,142.49 418.04,142.50 419.05,142.76 419.95,142.61 420.95,142.74 422.10,142.75 423.05,142.61 423.82,142.70 425.11,142.74 426.06,142.65 426.85,142.73 428.17,142.86 429.20,142.74 430.16,142.79 431.16,142.68 432.40,142.71 433.47,142.93 434.04,142.79 435.45,142.94 436.31,142.73 437.22,142.94 438.25,142.82 439.25,142.81 440.66,142.69 441.63,142.80 442.69,142.86 443.41,142.92 444.56,142.66 445.60,142.80" fill="none" stroke="#1a1a1a" stroke-width="0.95" stroke-linejoin="round"/>
<polyline points="364.80,142.60 365.68,142.03 367.08,141.67 367.89,141.19 368.77,141.03 370.13,140.42 371.15,139.93 372.41,139.16 373.20,138.50 374.27,138.34 375.28,137.68 376.01,137.26 376.81,137.00 377.58,136.10 378.41,135.33 379.55,134.45 380.19,133.68 380.77,132.83 381.30,132.04 381.51,131.08 381.73,129.87 381.64,128.98 382.12,128.08 382.55,127.11 382.84,126.07 382.85,125.11 382.94,124.11 383.44,122.98 383.26,121.91 383.69,120.98 383.82,119.89 384.23,119.01 384.62,118.13 384.08,116.86 384.91,115.92 384.97,114.78 384.93,114.07 385.35,113.09 385.74,112.11 385.86,111.11 386.06,110.12 385.77,108.85 385.97,108.04 386.65,106.99 386.28,105.68 386.14,104.67 386.32,103.63 386.74,102.79 387.47,101.71 386.74,101.13 387.79,99.91 387.54,98.81 387.49,97.72 387.27,97.08 388.23,95.97 387.52,94.78 387.52,93.78 387.63,92.67 387.83,91.85 388.84,90.45 388.96,89.63 388.16,88.63 389.13,87.19 388.98,86.17 388.27,85.22 388.51,84.41 389.34,82.97 389.06,81.80 389.10,81.12 389.84,80.33 389.63,78.92 390.05,77.97 390.03,76.76 390.21,75.60 389.58,74.58 389.62,73.82 390.50,72.35 390.05,71.43 390.47,70.78 390.77,69.91 390.36,68.33 390.53,67.43 389.91,66.12 390.94,65.33 389.84,64.11 389.89,62.93 390.93,62.22 390.28,61.06 390.31,60.12 390.87,58.67 390.70,58.25 391.27,56.86 390.82,55.61 390.47,54.50 390.49,53.18 390.57,52.91 392.10,51.00 391.21,50.00 391.38,49.38 391.35,48.18 391.40,47.18 391.52,45.95 392.17,44.85 392.48,44.26 392.49,43.32 392.10,42.20 393.46,41.42 393.31,39.82 393.43,39.12 392.98,38.10 392.40,36.53 392.78,36.41 392.87,36.77 394.71,38.37 394.44,39.01 395.27,37.80 393.59,36.78 394.68,35.83 394.27,34.58 394.65,34.45 395.19,32.66 395.71,32.38 394.66,30.92 394.82,29.57 396.33,28.00 396.31,29.89 395.32,30.47 396.96,32.31 395.86,33.38 396.44,33.52 396.50,34.69 395.60,36.31 394.86,37.32 396.02,36.10 396.39,35.07 396.42,36.08 397.01,37.11 396.32,38.22 396.91,39.31 397.55,40.16 397.57,40.66 398.70,42.23 398.78,43.20 397.84,43.96 398.63,45.38 398.70,45.82 397.86,47.00 397.58,47.83 398.26,48.81 398.12,50.17 399.04,50.98 399.40,51.72 398.13,52.87 399.48,53.91 399.51,54.99 399.71,56.15 398.79,57.52 400.22,58.52 399.41,59.25 399.23,60.47 399.51,61.25 399.94,62.56 399.81,63.14 400.67,63.93 399.40,65.08 399.49,66.57 400.29,67.50 399.73,68.22 400.95,68.88 401.00,70.61 401.21,71.01 400.79,72.28 400.87,73.53 400.74,74.07 401.72,75.34 401.38,76.45 401.35,77.26 400.72,78.40 401.23,79.46 401.82,80.64 401.85,82.13 401.04,82.88 401.69,84.40 401.42,84.93 401.25,86.33 401.25,86.89 401.97,88.37 401.44,89.25 401.28,90.21 401.38,91.37 401.90,92.38 402.53,93.33 401.81,94.16 402.23,95.53 402.55,96.45 402.18,97.56 402.61,98.44 402.19,99.80 402.13,100.45 402.48,101.68 402.39,102.87 402.39,103.72 403.34,104.59 402.53,105.94 403.35,106.61 402.85,107.62 403.38,108.68 403.76,109.77 403.73,111.05 403.51,111.71 403.52,112.92 404.30,114.01 403.99,115.03 404.38,115.93 404.67,117.25 404.57,117.96 404.89,119.01 404.83,120.26 404.72,121.02 404.94,122.04 405.46,123.37 405.30,124.17 405.29,125.45 405.87,126.55 405.60,127.43 406.22,128.72 406.09,129.76 406.80,130.80 407.02,131.75 407.12,133.15 407.51,134.10 407.80,134.86 408.23,135.78 408.25,136.73 408.77,137.71 409.40,138.69 410.24,139.19 411.32,139.77 411.95,140.42 412.94,141.19 414.19,141.92 414.79,142.45 415.87,142.65 416.90,142.48 417.88,142.63 419.15,142.57 420.12,142.58 421.07,142.64 422.01,142.80 422.77,142.60 423.83,142.81 425.08,142.93 426.05,142.87 427.26,142.67 428.08,142.81 429.22,142.75 430.32,142.77 430.98,142.66 432.16,142.67 433.34,142.92 434.04,142.84 435.53,142.76 436.20,142.78 437.58,142.65 438.16,142.75 439.24,142.76 440.54,142.95 441.61,142.79 442.69,142.67 443.65,142.78 444.37,142.85 445.60,142.80" fill="none" stroke="#444" stroke-width="0.55" stroke-linejoin="round"/>
<polyline points="364.80,137.00 365.25,136.34 365.78,135.43 366.34,134.45 367.37,133.62 367.77,132.89 368.23,131.91 368.64,131.06 369.13,129.85 369.63,128.88 370.40,128.14 370.93,126.84 371.41,126.30 371.84,125.25 372.58,124.37 373.10,123.48 373.75,122.56 374.56,121.64 374.40,120.37 375.27,119.52 375.10,118.69 375.70,117.56 376.25,116.32 376.22,115.56 376.39,114.47 376.70,113.40 377.48,112.49 377.92,111.24 377.77,110.02 378.18,109.21 377.96,108.42 378.46,107.32 378.38,106.08 378.36,105.14 378.72,104.19 378.96,103.42 379.56,102.06 379.28,101.06 379.67,100.52 379.41,99.41 379.65,97.98 380.23,97.18 379.83,96.24 380.04,95.22 380.39,94.23 380.68,93.16 380.35,92.04 380.51,91.31 381.00,90.47 381.38,89.38 382.10,87.94 381.34,86.96 381.96,86.21 382.58,85.04 383.05,83.78 383.16,82.89 383.44,81.74 383.78,81.21 384.05,80.06 383.33,79.33 383.83,77.70 384.22,77.00 384.27,75.75 384.05,75.06 384.64,73.73 384.83,73.17 385.36,71.98 385.17,70.90 385.16,69.77 385.63,68.70 386.08,68.13 386.03,66.57 385.80,65.86 385.54,65.26 386.50,63.86 386.53,62.59 385.99,61.82 386.77,60.89 385.87,59.84 387.19,58.92 387.31,58.09 386.43,56.49 386.97,56.03 386.81,54.98 387.67,53.56 387.51,52.88 387.91,51.25 388.17,50.10 387.64,49.72 388.52,48.08 387.85,47.29 388.85,46.30 389.17,45.28 389.16,44.11 388.62,42.89 388.98,41.93 389.74,42.75 388.76,44.24 389.29,45.01 389.27,46.45 389.72,47.02 390.73,48.28 390.16,49.68 390.57,50.28 391.48,51.71 391.27,52.30 391.47,53.65 391.59,54.51 391.63,55.93 391.18,56.87 391.83,58.21 392.12,59.09 391.16,60.00 392.01,60.63 391.82,62.32 392.51,63.42 391.55,64.22 392.66,65.31 392.06,65.88 392.93,67.58 392.70,68.26 393.03,69.66 393.00,70.55 392.61,71.38 392.77,72.46 393.07,73.37 393.42,74.60 392.87,75.59 393.25,76.78 393.81,77.60 393.28,78.80 393.34,80.17 393.35,80.69 393.92,82.16 394.29,83.04 393.83,84.26 394.35,84.99 394.25,86.29 394.78,87.28 393.96,87.89 394.33,88.79 394.76,89.72 394.95,91.07 394.73,91.98 395.11,93.10 395.12,94.32 394.99,95.37 394.86,96.02 395.25,97.13 394.81,98.24 395.03,98.94 395.41,100.17 395.59,101.20 395.61,102.08 395.05,103.23 395.58,104.41 395.54,105.05 395.39,106.02 395.44,107.52 395.48,108.40 395.82,109.11 395.99,110.08 395.72,111.32 395.81,112.51 396.15,113.34 396.66,114.08 396.80,115.04 396.64,116.33 397.02,117.19 397.11,118.32 396.92,119.09 396.88,120.18 397.07,121.18 397.49,122.17 397.50,123.02 397.32,124.30 397.89,125.13 397.51,126.10 397.82,127.15 398.15,128.14 398.41,129.34 398.70,130.34 398.81,131.17 399.15,132.20 399.37,133.27 399.47,134.31 399.70,135.27 399.88,136.42 399.99,137.39 400.25,138.36 400.43,139.40 400.79,140.30 401.63,141.10 402.68,141.69 404.03,142.11 405.05,142.73 406.16,142.71 406.88,142.66 408.13,142.72 408.99,142.95 410.17,142.88 411.12,142.86 411.91,142.91 413.05,142.93 414.10,142.95 414.95,142.97 416.01,142.83 417.17,142.98 418.28,142.98 419.37,142.81 420.09,142.73 421.32,142.98 422.32,142.80 423.31,142.89 424.19,142.91 425.18,142.71 426.14,142.85 427.41,142.77 428.30,142.92 429.27,142.87 430.42,142.83 431.28,142.92 432.48,142.77 433.54,142.92 434.58,142.96 435.45,142.94 436.39,142.92 437.32,142.83 438.50,143.00 439.58,143.01 440.67,143.03 441.59,142.93 442.54,142.81 443.69,142.93 444.45,142.82 445.60,142.90" fill="none" stroke="#3a3a3a" stroke-width="0.95" stroke-dasharray="1 0.9"/>
<path d="M456.5 24.5L473.8 24.5L473.5 36L468 34L462 31L457.5 28Z" fill="url(#gB)" filter="url(#bl2)"/>
<rect x="455.8" y="23.0" width="18.3" height="2.6" fill="url(#gBh)" filter="url(#bl2)"/>
<rect x="459.3" y="78.5" width="11.7" height="3.2" rx="1.6" fill="#555" opacity="1.00" filter="url(#bl2)"/>
<rect x="459.5" y="84.1" width="11.5" height="2.4" rx="1.2" fill="#d6d6d6" opacity="1.00" filter="url(#bl2)"/>
<ellipse cx="466.8" cy="134.3" rx="2.2" ry="1.7" fill="#6a6a6a" filter="url(#bl2)"/>
<ellipse cx="457.5" cy="137.2" rx="1.3" ry="1" fill="#bbb" filter="url(#bl2)"/>
<line x1="478.0" y1="30.7" x2="491.4" y2="30.7" stroke="#000" stroke-width="1.6"/>
<line x1="478.0" y1="41.9" x2="491.4" y2="41.9" stroke="#000" stroke-width="1.6"/>
<line x1="478.0" y1="66.7" x2="491.4" y2="66.7" stroke="#000" stroke-width="1.6"/>
<line x1="478.0" y1="73.8" x2="491.4" y2="73.8" stroke="#000" stroke-width="1.6"/>
<line x1="478.0" y1="95.4" x2="491.4" y2="95.4" stroke="#000" stroke-width="1.6"/>
<line x1="478.0" y1="109.5" x2="491.4" y2="109.5" stroke="#000" stroke-width="1.6"/>
<line x1="478.0" y1="134.1" x2="491.4" y2="134.1" stroke="#000" stroke-width="1.6"/>
<line x1="478.0" y1="148.4" x2="491.4" y2="148.4" stroke="#000" stroke-width="1.6"/>
<path d="M11.4 215.8V336.6H191.1" fill="none" stroke="#000" stroke-width="1.9"/>
<path d="M11.4 211.3L8.8 216.5L14.0 216.5Z" fill="#000"/>
<path d="M195.6 336.6L190.4 334.0L190.4 339.2Z" fill="#000"/>
<path d="M17.5 216.4H99.5V332.1H17.5" fill="none" stroke="#a2a2a2" stroke-width="1"/>
<line x1="17.5" y1="215.9" x2="17.5" y2="332.6" stroke="#3a3a3a" stroke-width="1"/>
<path d="M107.0 216.2H190.0V331.9H107.0" fill="none" stroke="#a2a2a2" stroke-width="1"/>
<line x1="107.0" y1="215.7" x2="107.0" y2="332.4" stroke="#3a3a3a" stroke-width="1"/>
<polyline points="17.80,323.00 18.48,322.66 19.10,322.15 19.83,321.35 21.12,320.53 21.73,320.04 22.93,318.96 23.57,317.98 23.84,316.87 23.79,315.85 24.20,315.16 24.51,314.11 24.62,313.10 24.94,313.92 25.81,315.09 25.76,313.84 25.76,312.89 25.88,312.12 25.93,311.16 26.52,309.82 26.27,309.00 26.12,307.97 26.89,306.83 26.76,305.83 26.86,305.17 26.84,303.78 27.01,303.02 27.22,301.81 27.88,301.20 28.09,299.95 28.55,298.80 28.77,297.84 29.03,297.23 28.75,296.03 29.48,294.82 29.40,294.25 30.32,292.80 30.27,292.24 30.04,291.06 30.02,289.93 30.82,289.05 31.10,287.77 30.83,287.20 31.25,285.97 31.23,285.28 31.59,283.72 32.01,282.90 31.78,281.83 31.96,280.90 31.74,280.08 31.87,279.12 31.90,278.06 32.93,276.84 32.94,275.63 33.10,274.68 32.61,273.97 32.94,272.54 33.63,271.48 33.52,270.30 33.87,269.30 32.97,268.73 33.25,267.66 34.44,266.37 33.34,264.97 33.79,264.16 34.52,263.54 34.36,261.92 34.84,260.89 34.36,260.16 35.41,258.77 35.25,258.21 35.89,256.94 36.27,255.75 36.25,255.16 36.73,253.91 35.78,252.52 36.66,251.58 37.04,250.46 37.51,249.52 36.54,248.44 37.41,247.66 37.47,246.26 37.80,245.80 38.06,244.71 37.40,243.67 38.99,242.21 38.56,241.12 39.39,239.63 38.91,239.04 38.30,238.19 39.00,236.66 38.93,235.96 38.54,235.12 37.74,234.09 38.27,233.34 38.24,232.21 39.36,230.95 39.85,229.34 39.56,228.78 39.93,227.51 39.03,228.41 40.25,229.51 39.49,230.77 40.45,232.03 39.77,231.25 40.46,230.26 40.00,229.42 41.20,228.44 42.08,227.31 40.56,225.86 40.85,225.20 40.82,223.60 40.72,222.44 42.37,222.19 41.33,220.90 41.57,219.62 41.43,218.67 41.22,217.23 41.84,216.10 41.71,217.88 40.92,218.10 42.48,219.11 41.44,220.93 42.16,221.36 41.13,222.46 41.63,224.01 42.95,225.04 42.83,226.22 42.81,227.25 43.01,227.53 41.83,228.72 42.39,229.99 42.05,231.31 42.27,231.74 42.18,232.97 42.90,234.06 42.72,234.72 42.78,235.85 42.51,237.04 42.67,238.18 43.54,238.69 43.55,239.86 43.33,241.09 43.92,242.32 43.94,242.76 43.70,243.86 42.92,245.04 43.72,246.30 43.56,247.27 43.94,247.68 44.32,248.83 44.11,249.66 43.38,251.33 43.50,251.73 43.77,252.77 44.84,254.54 44.66,255.16 45.09,256.32 44.07,257.54 44.48,258.31 44.51,259.48 44.40,260.72 45.43,261.77 44.33,262.93 44.45,263.82 45.69,264.99 45.84,266.08 45.10,266.70 45.44,268.10 45.26,268.90 46.01,269.95 45.93,271.11 46.43,271.81 45.62,273.33 46.30,273.93 45.76,275.04 46.35,276.51 46.07,277.11 46.71,278.28 46.99,279.67 47.19,280.53 46.76,281.15 47.17,282.36 46.85,283.50 47.45,284.46 47.46,285.70 46.65,286.36 47.55,287.60 47.69,288.29 47.31,289.70 47.38,290.56 47.87,291.31 47.05,292.67 47.61,293.34 47.91,294.39 47.33,295.41 47.31,296.47 48.04,297.50 48.26,298.31 47.64,299.37 48.05,300.40 48.19,301.56 48.18,302.72 48.41,303.75 47.97,304.52 48.66,305.53 48.21,306.58 48.20,307.74 48.60,308.43 49.00,309.65 48.66,310.73 49.31,311.67 48.84,312.66 49.04,313.83 49.38,315.00 49.48,315.73 49.81,316.82 49.89,317.90 50.06,319.05 50.75,319.95 50.83,320.94 51.23,322.02 51.00,323.08 51.35,323.85 51.51,325.11 52.10,325.96 52.63,327.06 53.00,328.06 53.89,329.13 54.21,330.02 55.49,330.20 56.51,330.25 57.83,330.26 58.75,330.51 59.63,330.63 60.83,330.59 61.91,330.78 63.01,330.73 63.83,330.73 65.14,330.63 65.88,330.47 66.98,330.38 68.19,330.43 69.19,330.33 70.06,330.46 71.06,330.32 71.79,330.28 72.95,330.46 74.20,330.49 75.21,330.30 75.80,330.36 76.79,330.34 78.03,330.40 79.05,330.48 79.90,330.67 80.87,330.68 82.01,330.65 82.85,330.50 84.17,330.18 84.99,330.14 85.99,330.01 87.06,329.71 88.08,329.68 88.98,329.35 90.06,329.04 90.81,328.75 92.13,328.57 92.81,328.77 94.04,329.06 94.84,329.37 96.09,329.61 97.36,329.92 98.12,330.14 99.50,330.50" fill="none" stroke="#1a1a1a" stroke-width="0.95" stroke-linejoin="round"/>
<polyline points="17.80,323.00 18.38,322.69 19.33,321.89 20.10,321.51 20.94,320.68 21.87,319.98 23.07,319.12 23.25,318.14 23.94,317.02 23.96,315.84 23.99,315.10 24.60,314.05 24.46,313.09 25.52,314.14 25.81,314.98 25.76,313.87 25.61,313.18 25.96,311.96 26.13,311.20 26.55,310.08 26.57,309.01 26.58,308.13 26.70,306.81 26.66,306.04 26.93,305.19 27.30,303.96 27.33,303.13 27.83,301.94 27.80,301.05 28.15,300.08 28.74,298.96 28.77,297.85 29.21,297.10 29.25,295.92 29.01,294.87 29.39,294.14 29.92,293.18 30.49,291.88 29.96,291.12 30.40,290.18 30.59,288.85 31.27,288.13 31.30,287.11 31.64,286.21 30.88,284.76 31.02,284.14 31.68,283.12 31.41,281.81 32.45,281.07 31.81,279.77 32.67,279.15 32.00,278.19 32.12,276.77 32.84,275.98 33.27,274.43 32.64,273.45 32.54,272.73 32.74,271.52 33.54,270.70 33.48,269.59 33.75,268.23 33.32,267.67 33.48,266.58 33.40,265.14 34.41,264.05 35.05,263.30 35.08,262.30 35.24,260.89 34.75,259.94 34.96,258.81 34.80,258.07 36.16,257.14 35.91,256.31 36.05,255.01 36.30,253.93 35.88,252.56 37.15,251.80 37.30,250.44 37.07,250.07 36.54,249.07 37.24,247.62 37.85,246.60 37.53,245.79 37.67,243.94 37.38,243.66 37.92,242.04 38.67,241.10 38.44,240.19 38.80,238.66 38.99,238.17 39.04,237.18 37.75,235.61 39.22,234.78 39.40,234.44 39.14,233.18 37.89,232.23 38.75,231.16 39.95,229.36 39.16,228.47 38.98,228.02 40.17,228.77 40.53,229.86 39.41,230.95 40.82,232.18 41.20,230.81 40.96,230.23 40.77,229.42 40.71,228.02 41.02,227.38 41.96,226.22 41.72,225.02 41.82,223.69 40.66,222.74 42.43,221.32 41.74,220.31 40.70,219.80 42.03,218.29 41.91,217.53 41.77,216.61 42.40,217.73 42.03,218.92 42.82,219.78 41.50,220.27 42.32,221.91 42.92,223.10 41.81,223.33 42.30,224.80 42.38,225.53 42.30,226.98 41.23,227.53 42.07,229.09 42.76,229.70 43.16,230.74 43.30,231.75 42.85,233.34 42.17,233.89 43.56,235.23 43.45,235.64 43.78,236.95 42.69,238.28 43.22,239.26 43.91,239.60 42.99,241.13 42.85,241.72 43.76,243.29 43.10,243.71 44.15,244.91 43.58,246.05 44.62,247.12 43.77,247.95 44.63,249.15 44.18,249.81 44.60,250.71 44.08,251.76 43.85,252.80 43.92,254.38 43.75,255.17 43.85,255.98 44.37,257.28 45.24,258.39 45.33,259.92 44.84,260.62 45.42,262.01 45.68,262.61 44.87,263.88 45.23,264.76 44.82,265.83 45.90,266.86 45.29,268.26 45.04,268.87 45.28,269.91 46.33,270.97 45.71,271.95 45.94,272.86 46.02,274.43 46.70,275.13 45.82,275.97 46.30,277.15 46.80,278.17 46.52,279.27 46.63,280.49 47.14,281.65 46.89,282.70 46.71,283.56 47.05,284.66 47.12,285.63 47.52,286.26 47.37,287.67 47.36,288.49 46.91,289.59 47.09,290.59 46.93,291.55 47.52,292.66 47.39,293.37 47.34,294.53 47.57,295.73 47.48,296.55 47.74,297.35 47.55,298.63 47.73,299.37 48.03,300.50 47.80,301.69 47.99,302.59 48.53,303.60 48.10,304.41 48.26,305.68 48.06,306.80 48.74,307.73 48.49,308.41 48.36,309.85 48.53,310.55 49.15,311.82 49.29,312.76 49.19,314.00 49.73,314.71 49.97,315.82 49.75,316.99 50.21,317.94 50.25,318.86 50.35,320.10 50.75,320.87 51.26,321.95 51.03,322.86 51.74,323.93 51.88,324.89 52.23,325.92 52.43,327.00 53.16,328.08 53.96,329.06 54.57,329.88 55.68,329.97 56.77,330.26 57.71,330.28 58.56,330.28 59.85,330.58 60.89,330.53 62.19,330.59 62.89,330.70 63.85,330.54 65.11,330.72 66.06,330.62 66.89,330.47 67.87,330.56 69.02,330.42 69.81,330.49 71.11,330.28 71.93,330.21 72.86,330.20 74.10,330.26 74.89,330.44 76.10,330.44 77.07,330.34 77.81,330.47 79.19,330.38 79.90,330.59 80.91,330.57 82.04,330.63 82.93,330.44 83.83,330.41 85.06,330.03 85.82,329.86 87.12,329.66 88.05,329.67 88.86,329.41 90.00,329.16 91.11,328.89 91.84,328.57 93.14,328.63 94.19,329.03 95.19,329.30 95.99,329.73 97.34,330.02 98.42,330.12 99.50,330.50" fill="none" stroke="#444" stroke-width="0.55" stroke-linejoin="round"/>
<polyline points="18.90,322.00 19.75,321.18 20.58,320.30 21.51,319.71 22.26,318.68 23.01,317.94 23.17,317.17 23.86,315.83 24.09,315.04 24.14,313.92 24.60,312.98 24.91,312.06 24.89,311.11 25.69,310.19 25.77,308.81 25.69,307.84 26.58,306.92 26.51,306.17 26.73,305.02 27.06,303.80 27.41,303.16 27.36,301.87 27.79,300.78 28.10,300.15 28.46,299.02 28.86,297.83 28.90,296.94 29.18,295.81 29.56,294.80 29.34,294.16 30.20,292.97 30.03,291.87 30.06,291.06 30.11,289.80 30.48,288.82 30.79,288.18 31.04,286.99 30.81,285.96 30.64,285.12 31.07,283.90 30.98,282.97 31.58,281.94 31.98,281.10 31.54,280.02 32.31,279.01 32.16,277.73 32.19,276.98 32.24,275.95 32.56,275.02 32.61,273.79 32.70,273.30 32.81,271.70 32.52,271.02 32.70,269.73 32.90,268.97 33.99,267.99 33.55,266.96 33.94,265.96 34.54,265.28 34.85,263.95 35.14,263.29 34.92,261.81 35.80,261.13 36.17,260.06 37.12,259.15 37.83,258.67 38.12,257.77 38.78,258.91 38.32,260.05 39.49,261.21 40.05,261.85 40.79,262.55 40.76,264.12 40.37,264.75 40.31,265.68 40.51,266.64 41.43,268.20 40.90,269.13 41.21,270.01 41.14,271.15 41.50,271.93 41.52,273.20 42.01,273.98 42.21,275.44 42.69,276.33 42.12,277.23 42.36,278.05 42.75,279.33 43.44,280.48 43.10,281.55 43.42,282.47 43.30,283.47 43.48,284.67 43.71,285.55 43.82,286.60 44.10,287.77 44.30,288.63 44.40,289.97 44.66,290.87 44.01,291.97 44.74,292.57 44.44,293.77 44.87,294.95 44.62,295.77 44.65,296.77 45.21,298.21 44.90,299.15 45.52,299.92 45.35,301.08 45.73,302.31 45.17,303.04 45.83,304.24 45.71,305.38 45.97,306.48 45.79,307.12 46.12,308.16 46.14,309.54 46.14,310.46 46.11,311.32 46.46,312.64 46.78,313.35 46.83,314.57 46.62,315.56 46.94,316.59 46.92,317.82 47.40,318.77 47.61,319.95 47.55,320.93 48.05,321.81 48.13,322.90 48.17,323.93 48.35,325.14 48.80,326.22 49.38,327.49 49.89,328.48 50.15,329.57 51.13,329.77 52.54,329.82 53.35,330.11 54.51,330.10 55.80,330.18 56.77,330.41 57.77,330.47 58.79,330.65 60.09,330.79 61.11,330.91 61.91,330.91 63.07,330.78 64.06,330.91 65.03,330.69 66.24,330.69 66.95,330.86 68.04,330.74 69.17,330.91 70.07,330.91 71.18,330.83 72.17,330.66 73.05,330.85 74.25,330.69 75.24,330.79 76.23,330.77 77.12,330.76 78.40,330.71 79.37,330.81 80.11,330.89 81.10,330.89 82.23,330.92 83.37,330.76 84.35,330.94 85.20,330.72 86.26,330.89 87.26,330.73 88.40,330.82 89.34,330.81 90.22,330.66 91.23,330.67 92.51,330.93 93.29,330.77 94.26,330.78 95.51,330.83 96.60,330.81 97.32,330.77 98.47,330.75 99.50,330.80" fill="none" stroke="#3a3a3a" stroke-width="0.95" stroke-dasharray="1 0.9"/>
<polyline points="107.30,324.20 108.17,322.72 108.89,321.75 109.12,320.85 109.40,319.88 110.12,319.04 110.26,317.93 110.63,317.13 111.39,315.86 111.96,315.23 112.13,314.11 112.19,312.89 112.82,311.92 112.88,310.98 113.07,310.06 113.66,309.21 114.01,308.11 114.30,307.11 114.57,305.94 115.29,305.24 115.47,304.10 115.35,302.88 115.65,301.74 116.37,300.83 116.77,299.76 117.20,298.92 116.68,297.55 117.82,296.61 118.21,295.51 117.70,294.57 118.61,293.37 118.21,292.40 119.30,291.61 118.72,290.34 118.95,289.23 119.90,288.28 119.91,287.42 119.78,286.57 119.96,285.52 120.19,284.38 120.54,283.29 121.62,282.59 121.13,281.63 121.27,280.34 122.21,279.45 121.55,278.63 121.88,277.15 122.75,276.15 122.39,274.96 122.34,274.24 122.73,273.22 123.09,272.09 124.03,271.07 123.75,270.29 123.46,268.78 124.60,268.19 123.95,266.73 124.80,266.21 124.28,265.18 125.41,263.91 124.99,262.52 124.67,262.15 125.16,260.99 125.39,260.10 126.08,258.74 125.69,258.07 125.74,256.73 126.66,256.22 126.96,254.81 127.62,253.77 126.47,252.72 127.32,251.46 127.10,250.60 127.91,249.31 127.78,248.81 128.96,247.53 128.71,246.37 128.02,244.82 128.04,244.44 129.38,243.38 128.48,242.01 129.47,240.99 129.42,240.12 129.22,238.64 130.58,237.85 130.81,236.58 131.00,235.72 130.32,234.48 131.38,233.61 130.61,232.50 131.51,231.27 131.17,230.05 131.18,229.22 130.34,228.21 132.13,227.39 131.73,225.90 131.85,225.08 131.39,224.32 130.80,223.24 130.79,222.10 131.76,220.74 132.29,220.00 132.23,219.41 131.62,217.52 131.81,217.17 132.41,216.08 134.00,217.68 133.29,219.02 133.26,219.92 133.21,220.81 134.59,222.40 134.93,223.01 134.56,224.07 133.91,225.36 135.43,226.81 135.39,228.02 134.69,228.35 135.11,229.49 134.78,230.67 135.63,231.79 135.17,233.15 136.45,233.86 134.95,234.54 136.45,235.60 136.23,237.08 135.61,238.30 135.18,238.76 135.99,239.69 136.68,240.89 135.60,241.75 136.48,243.11 136.55,244.31 136.90,245.57 136.76,245.99 136.49,247.01 135.83,248.28 136.99,249.09 136.37,250.26 137.09,251.43 137.03,252.64 136.76,253.71 137.59,254.20 137.68,255.72 136.57,256.55 137.36,257.93 137.07,258.71 137.84,259.91 137.99,260.70 137.64,261.55 137.80,263.02 137.75,263.96 137.24,265.09 138.32,266.15 137.79,267.03 137.57,268.11 138.32,268.74 137.39,269.81 138.05,271.03 138.03,271.56 138.49,272.59 138.53,273.67 138.03,275.07 137.86,275.67 138.37,277.04 138.80,278.02 138.98,278.91 139.04,279.67 138.28,280.94 138.42,282.07 138.87,282.96 139.14,283.98 138.64,284.89 139.26,286.19 138.66,287.17 139.50,287.99 139.15,288.82 139.17,289.99 139.30,290.75 139.74,292.01 139.28,293.17 139.52,294.01 139.72,294.80 139.66,295.98 140.12,297.24 139.60,298.02 139.56,299.01 140.24,300.23 140.04,300.96 139.89,302.11 140.57,302.89 140.54,303.85 140.16,304.95 140.63,305.99 140.46,307.13 140.37,308.18 140.47,309.09 140.65,309.97 140.94,311.07 140.92,312.07 141.17,312.96 141.11,314.13 141.54,315.08 141.82,316.10 141.97,316.95 142.04,318.15 142.29,318.96 142.09,320.17 142.19,321.18 142.71,321.88 142.65,323.17 142.95,324.07 143.52,325.28 143.78,326.28 143.88,327.56 144.00,328.51 144.58,329.82 145.75,329.67 146.60,329.93 147.65,329.99 148.57,329.90 149.58,329.97 150.82,330.18 151.88,330.16 152.76,330.26 154.10,330.56 155.18,330.39 155.81,330.62 156.98,330.56 157.93,330.47 159.01,330.45 160.04,330.32 161.09,330.55 161.86,330.43 163.10,330.41 163.87,330.34 165.01,330.29 166.17,330.50 167.09,330.51 168.06,330.37 169.04,330.33 170.21,330.34 170.90,330.29 172.11,330.18 173.14,330.00 174.17,330.06 175.08,329.95 176.12,329.77 177.10,329.02 177.93,328.49 178.78,328.78 180.06,329.19 180.88,329.60 182.07,329.75 183.07,329.91 184.01,329.94 185.22,330.10 186.09,330.22 187.21,330.10 188.05,330.39 188.90,330.38 190.00,330.50" fill="none" stroke="#1a1a1a" stroke-width="0.95" stroke-linejoin="round"/>
<polyline points="107.30,324.20 108.38,322.60 108.90,321.76 109.06,320.86 109.39,319.77 109.99,318.84 110.60,317.97 110.81,316.94 111.09,316.11 111.91,314.99 112.23,313.99 112.59,312.98 112.85,312.06 113.36,311.19 113.12,309.91 113.67,308.95 113.81,308.25 114.63,306.84 114.23,306.09 115.25,305.19 115.35,304.12 115.49,303.00 116.12,301.76 116.30,300.98 116.18,299.94 116.51,298.98 117.36,297.67 117.53,296.86 117.65,295.41 118.28,294.70 118.03,293.63 118.49,292.58 118.83,291.72 119.17,290.72 119.81,289.26 120.04,288.60 119.48,287.49 119.86,286.19 119.88,285.36 121.00,284.18 120.94,283.64 120.95,282.54 121.45,281.56 121.58,280.69 121.69,279.19 121.58,278.18 121.77,277.57 121.99,276.47 122.95,275.20 122.29,274.00 123.58,273.10 123.60,271.87 122.88,270.99 123.47,269.85 124.05,269.06 124.15,267.85 124.16,266.78 124.55,265.83 124.89,265.19 124.65,263.90 124.55,263.03 125.36,261.89 125.61,260.57 126.27,259.51 125.51,258.88 126.76,258.06 126.95,256.81 126.65,256.03 126.40,254.67 126.76,253.69 126.46,252.65 127.95,251.89 127.98,250.76 127.77,249.91 127.76,248.31 127.87,247.06 127.63,246.12 128.82,244.95 128.79,243.93 129.46,242.78 129.19,242.11 129.87,241.13 128.91,239.67 129.42,238.94 129.74,237.76 130.43,236.63 131.01,235.68 131.27,234.24 130.98,233.65 131.30,232.19 131.44,231.45 130.84,230.11 130.91,229.52 130.62,228.50 130.53,226.81 131.75,226.19 131.03,224.81 131.63,224.25 131.38,222.97 131.56,222.32 132.59,221.13 131.41,219.93 131.84,219.12 131.73,218.11 132.25,217.04 133.93,216.32 132.71,217.04 132.43,218.82 134.37,219.92 133.23,220.43 133.90,221.59 133.38,223.25 133.74,224.22 135.25,225.35 134.58,226.49 135.78,227.30 135.49,228.41 135.41,229.28 134.48,230.48 135.78,231.56 135.90,232.68 136.22,234.25 136.14,234.69 135.04,235.96 135.47,236.61 136.32,238.33 136.59,239.42 136.19,240.10 136.96,241.01 136.64,241.96 136.99,243.25 137.14,244.47 136.59,245.21 135.93,245.99 135.86,247.36 136.14,247.92 136.80,249.47 136.08,250.18 137.38,251.56 137.29,252.26 136.24,253.60 137.09,254.58 136.40,255.64 137.61,256.58 137.20,257.38 137.07,258.45 136.70,260.03 137.06,260.46 137.55,261.55 137.93,262.59 137.34,263.66 137.01,265.03 137.81,265.90 138.34,266.57 138.19,267.70 138.36,269.16 137.80,270.08 137.85,270.60 137.95,271.95 138.12,272.85 137.69,273.96 138.48,274.96 137.97,276.03 138.69,276.79 138.18,277.86 138.57,279.19 138.84,279.63 138.35,280.98 139.13,282.02 139.08,282.76 138.51,283.84 138.42,285.08 139.03,286.07 139.17,287.08 138.54,287.99 139.12,288.84 138.88,290.18 138.79,290.74 139.65,292.21 139.28,292.95 139.75,294.08 139.48,294.95 139.74,296.00 139.50,297.27 139.83,297.96 140.06,298.89 139.74,300.03 139.67,301.01 139.80,302.17 140.30,303.21 140.04,303.90 140.47,305.11 140.34,305.88 140.56,307.28 140.85,307.91 140.87,309.19 140.67,309.92 141.10,310.90 141.04,311.92 141.40,313.01 141.34,314.14 141.51,315.14 141.38,315.90 141.89,316.88 141.67,318.05 142.21,318.89 142.09,319.85 142.51,320.90 142.47,321.94 142.55,323.24 142.89,324.05 143.43,325.16 143.55,326.36 143.86,327.62 144.39,328.64 144.52,329.74 145.73,329.74 146.55,329.92 147.60,329.90 148.79,330.05 149.59,330.05 150.66,330.18 152.01,330.30 152.93,330.21 153.88,330.54 155.06,330.60 155.87,330.36 156.81,330.42 157.94,330.46 158.92,330.56 160.05,330.50 160.80,330.59 162.00,330.40 163.09,330.56 163.90,330.45 165.06,330.37 165.86,330.32 166.87,330.54 168.09,330.36 169.21,330.27 170.12,330.26 170.82,330.29 171.79,330.22 172.94,330.06 173.78,329.90 175.16,329.99 176.11,329.83 177.03,329.03 178.03,328.59 179.18,328.70 180.07,329.02 180.83,329.53 181.92,329.79 183.19,329.98 184.15,330.05 185.15,330.03 185.99,330.08 187.19,330.30 187.79,330.26 189.07,330.28 190.00,330.50" fill="none" stroke="#444" stroke-width="0.55" stroke-linejoin="round"/>
<polyline points="107.30,324.00 108.19,322.55 108.69,321.42 108.81,320.55 109.35,319.75 109.97,318.72 110.32,317.79 110.53,316.75 110.95,315.97 111.31,314.99 111.73,313.98 112.29,312.92 113.00,311.81 112.84,311.20 113.39,309.89 113.98,309.27 113.74,308.08 114.04,307.06 114.64,306.02 114.99,305.00 114.94,304.36 115.38,303.21 115.81,302.27 115.96,301.09 116.49,300.55 116.97,299.44 116.82,298.32 117.36,297.50 117.22,296.31 117.70,295.48 118.34,294.50 118.00,293.63 118.58,292.43 118.68,291.35 119.09,290.49 119.11,289.33 119.44,288.38 119.59,287.11 120.12,286.27 120.13,285.13 120.53,283.99 121.04,283.34 121.31,282.31 121.29,281.25 121.73,279.81 122.36,279.25 121.91,277.86 122.91,276.90 122.65,275.69 122.71,275.08 123.92,274.32 123.70,272.69 123.77,272.19 124.56,271.09 124.19,270.02 124.71,269.08 124.74,268.30 125.93,266.87 125.77,266.46 126.25,265.61 127.02,264.54 127.73,263.30 128.35,262.63 129.09,263.98 128.75,265.15 129.35,265.74 129.65,267.29 130.06,268.08 130.55,269.31 130.48,269.95 130.39,271.26 130.70,272.05 130.34,272.92 130.84,274.04 130.22,275.13 131.20,276.19 131.29,277.25 131.03,278.18 130.98,278.76 131.05,279.89 131.68,281.11 131.41,282.07 131.12,283.02 131.73,283.94 131.42,284.95 131.58,286.10 131.52,286.77 131.76,288.11 132.23,289.09 132.47,289.93 131.82,290.99 132.25,291.83 132.53,292.92 132.30,293.91 132.94,294.75 132.59,295.89 132.58,296.97 132.70,298.20 133.00,299.10 132.86,299.98 133.27,301.16 133.13,301.98 133.64,303.15 133.32,304.02 133.81,305.01 133.88,306.18 134.21,307.19 134.16,308.15 134.32,309.20 134.32,310.27 134.34,311.24 134.44,312.45 134.59,313.31 135.03,314.46 135.23,315.64 135.19,316.80 135.70,317.66 135.57,318.83 136.16,319.88 136.38,320.87 136.55,321.88 136.71,322.98 136.95,324.05 137.38,325.04 137.38,326.12 138.63,326.78 139.20,327.45 140.46,328.02 141.20,328.57 142.12,328.97 143.26,329.75 143.96,330.33 144.83,330.75 145.83,330.71 146.88,330.86 147.93,330.71 148.89,330.75 150.13,330.83 150.86,330.85 152.01,330.79 153.01,330.84 154.11,330.80 155.05,330.79 156.05,330.77 156.97,330.80 158.08,330.74 159.15,330.80 160.13,330.85 161.16,330.85 161.97,330.77 163.04,330.87 164.12,330.70 164.85,330.69 165.85,330.68 166.83,330.73 167.86,330.85 169.04,330.93 170.16,330.87 171.16,330.67 171.90,330.92 172.99,330.72 174.09,330.78 175.02,330.75 175.91,330.68 177.04,330.93 178.17,330.87 179.15,330.76 179.93,330.92 181.04,330.85 181.83,330.72 182.99,330.86 184.11,330.87 184.94,330.77 186.13,330.94 186.99,330.71 188.04,330.81 188.95,330.72 190.00,330.80" fill="none" stroke="#3a3a3a" stroke-width="0.95" stroke-dasharray="1 0.9"/>
<rect x="203.6" y="257.4" width="12.2" height="2.5" rx="1.2" fill="#e2e2e2" opacity="1.00" filter="url(#bl2)"/>
<rect x="204.2" y="262.6" width="11.4" height="4.8" rx="2.0" fill="#b4b4b4" opacity="1.00" filter="url(#bl2)"/>
<rect x="204.2" y="260.8" width="11.4" height="2.6" rx="1.3" fill="#262626" opacity="1.00" filter="url(#bl1)"/>
<rect x="204.4" y="266.0" width="11.0" height="2.3" rx="1.1" fill="#727272" opacity="1.00" filter="url(#bl1)"/>
<rect x="203.3" y="273.0" width="3.5" height="12.0" rx="2.0" fill="#ededed" opacity="1.00" filter="url(#bl2)"/>
<line x1="217.8" y1="256.7" x2="231.2" y2="256.7" stroke="#000" stroke-width="1.6"/>
<line x1="217.8" y1="280.9" x2="231.2" y2="280.9" stroke="#000" stroke-width="1.6"/>
<line x1="217.8" y1="308.4" x2="231.2" y2="308.4" stroke="#000" stroke-width="1.6"/>
<path d="M272.3 216.2V337.0H452.1" fill="none" stroke="#000" stroke-width="1.9"/>
<path d="M272.3 211.7L269.7 216.9L274.9 216.9Z" fill="#000"/>
<path d="M456.6 337.0L451.4 334.4L451.4 339.6Z" fill="#000"/>
<path d="M276.9 216.3H358.0V332.2H276.9" fill="none" stroke="#a2a2a2" stroke-width="1"/>
<line x1="276.9" y1="215.8" x2="276.9" y2="332.7" stroke="#5a5a5a" stroke-width="1"/>
<path d="M364.5 216.4H445.8V331.5H364.5" fill="none" stroke="#a2a2a2" stroke-width="1"/>
<line x1="364.5" y1="215.9" x2="364.5" y2="269.7" stroke="#333" stroke-width="1" stroke-dasharray="1 1"/>
<line x1="364.5" y1="269.7" x2="364.5" y2="332.0" stroke="#2a2a2a" stroke-width="1"/>
<polyline points="277.30,327.70 277.41,326.71 277.84,325.71 277.81,324.46 278.01,323.41 278.85,322.33 279.27,321.30 279.66,320.33 280.50,319.34 280.58,318.12 281.22,317.24 282.19,316.11 282.71,315.06 283.30,314.05 283.34,313.04 283.79,312.02 284.14,310.91 284.30,309.93 284.56,308.82 285.24,308.13 285.69,306.94 285.68,305.83 285.67,304.66 286.23,303.29 286.36,302.31 286.67,301.23 287.24,300.15 287.11,299.15 287.47,297.97 287.70,296.98 287.86,296.08 288.94,294.89 289.01,294.12 288.61,292.73 289.58,292.11 289.66,290.76 289.69,290.15 290.40,289.14 289.95,288.18 290.37,287.12 290.40,286.10 291.17,284.81 291.03,283.59 291.71,282.41 291.74,281.33 292.12,280.03 292.32,279.21 292.65,277.88 292.99,277.09 293.97,276.03 293.75,274.96 294.51,273.74 294.13,273.29 294.32,271.80 294.54,270.96 294.34,269.85 294.75,269.06 294.32,267.69 295.01,267.09 295.08,265.72 295.33,264.56 294.58,263.63 295.90,262.72 295.12,261.61 296.06,260.23 295.82,259.23 295.44,258.11 295.50,257.08 295.37,256.04 295.55,255.24 296.43,253.60 296.81,252.66 296.46,251.90 296.33,250.64 296.58,249.48 297.34,248.41 297.37,247.44 296.64,246.53 296.29,245.27 296.91,244.48 297.85,243.89 296.57,242.47 296.80,241.65 297.21,240.68 297.68,238.98 296.88,238.04 298.49,236.91 297.95,236.06 297.84,235.39 297.74,234.28 298.67,233.43 298.54,232.38 298.53,231.03 298.99,230.24 299.63,228.55 298.36,227.90 299.75,226.86 298.92,226.23 299.16,224.25 298.92,223.03 300.46,221.94 300.68,221.51 301.48,220.30 300.68,218.89 301.83,217.75 301.09,216.56 300.95,217.29 302.93,218.62 301.72,220.10 302.30,220.52 301.61,221.87 302.32,223.62 302.28,224.63 303.56,225.32 303.94,226.74 303.10,227.38 303.18,229.07 303.44,229.52 303.27,230.88 303.06,231.98 302.89,233.21 303.27,233.59 304.11,234.78 304.73,235.96 304.21,237.27 303.80,238.20 304.65,238.94 305.27,239.69 305.21,240.90 305.26,242.01 304.07,243.40 305.59,244.30 304.98,245.69 304.69,246.72 304.43,247.76 305.67,248.71 304.89,249.52 305.69,250.86 306.08,252.14 304.91,253.31 306.21,254.27 306.12,255.21 306.02,256.23 305.89,256.97 305.29,258.35 306.01,258.90 306.14,260.34 306.02,261.50 306.53,262.27 306.46,263.42 306.15,264.42 306.64,265.50 306.68,266.48 306.32,267.93 306.35,268.62 305.60,269.75 306.04,271.03 306.52,272.20 306.12,272.88 306.28,274.16 305.70,274.82 305.80,275.89 305.99,277.29 305.90,278.26 306.01,278.82 306.79,279.75 305.83,280.78 305.80,281.93 305.97,282.80 305.77,284.11 305.82,284.85 306.39,286.23 306.51,287.15 306.57,288.22 306.75,288.88 305.98,290.15 306.46,291.12 306.74,291.95 306.68,293.10 306.44,294.03 306.33,295.22 306.61,296.40 306.39,297.32 306.25,298.30 306.34,299.42 307.05,300.15 306.93,301.15 306.54,302.12 306.78,303.20 307.11,304.49 307.00,305.63 306.99,306.54 307.21,307.48 307.72,308.59 307.27,309.97 307.90,310.90 307.75,311.86 307.62,313.05 307.95,313.95 308.53,314.95 308.34,316.27 308.74,317.07 308.89,318.28 308.98,319.46 309.34,320.45 309.58,321.53 309.73,322.76 310.03,323.73 309.99,324.98 310.42,325.98 310.77,326.97 311.20,328.00 311.67,328.87 312.12,329.78 313.02,330.00 314.10,330.12 315.17,330.19 316.02,330.21 316.89,330.41 318.00,330.66 318.81,330.63 320.10,330.79 321.15,330.70 322.11,330.78 323.03,330.68 323.96,330.89 325.10,330.82 325.97,330.67 327.08,330.78 328.09,330.83 328.96,330.91 329.84,330.93 330.82,330.93 332.04,330.79 333.18,330.80 334.00,330.68 335.13,330.84 335.89,330.69 336.97,330.92 338.16,330.79 338.80,330.89 339.87,330.86 341.00,330.93 341.85,330.88 343.09,330.66 344.03,330.74 345.08,330.93 346.07,330.80 347.04,330.73 347.99,330.69 349.09,330.68 350.01,330.71 351.03,330.68 351.80,330.84 353.09,330.91 354.07,330.94 354.85,330.84 356.06,330.71 356.85,330.73 358.00,330.80" fill="none" stroke="#1a1a1a" stroke-width="0.95" stroke-linejoin="round"/>
<polyline points="277.30,327.70 277.30,326.76 277.86,325.45 278.00,324.47 278.40,323.62 278.62,322.48 279.25,321.33 279.74,320.31 280.28,319.46 281.00,318.03 281.34,317.27 282.16,316.04 282.59,315.04 282.78,313.90 283.35,312.78 283.93,311.73 283.88,311.03 284.68,309.88 284.96,309.12 284.74,308.18 285.07,306.85 285.32,305.54 286.09,304.73 285.97,303.36 286.69,302.34 286.57,301.34 286.81,300.40 287.57,299.23 288.07,297.97 287.71,297.11 288.61,296.22 288.80,295.00 288.67,294.05 289.17,293.11 289.53,291.92 289.67,290.79 289.56,290.10 290.22,288.72 289.96,287.94 290.57,286.92 290.65,286.09 290.94,284.65 291.81,283.42 291.65,282.17 292.29,281.39 292.00,280.22 292.40,279.30 293.09,277.92 294.05,276.99 293.98,276.29 294.05,274.97 295.19,273.91 295.18,273.04 295.35,271.99 295.32,270.89 294.53,269.76 294.91,268.91 294.91,267.71 294.70,266.77 295.31,265.83 294.48,264.53 295.46,263.62 295.05,262.62 294.82,261.49 296.19,260.30 295.20,259.47 295.96,258.14 295.56,256.82 295.46,256.34 296.04,255.31 296.98,254.15 296.18,252.60 297.12,251.60 296.03,250.75 296.32,249.59 296.26,248.36 296.11,248.01 296.31,246.56 297.27,245.63 297.74,244.91 297.40,243.43 297.55,242.32 296.88,241.38 297.52,240.13 297.52,239.19 297.01,238.65 297.91,237.27 297.26,236.00 297.32,235.46 298.50,234.09 298.72,232.99 298.53,232.45 297.93,231.12 298.61,229.65 298.29,228.97 298.26,228.16 299.01,226.65 299.18,225.72 299.43,224.46 299.60,223.25 300.51,222.40 299.98,221.00 300.19,220.46 301.17,219.20 301.94,217.75 301.73,216.13 301.93,217.10 301.90,218.85 302.19,219.82 302.70,221.08 302.64,222.16 302.43,223.25 301.81,224.40 302.37,225.55 302.21,226.54 302.76,227.57 303.89,228.91 303.99,229.87 304.19,231.34 304.29,231.66 303.05,232.77 303.93,233.70 304.82,234.96 304.88,235.64 303.34,236.99 304.83,237.80 305.19,238.67 305.23,240.52 304.97,241.33 304.97,242.10 304.00,243.54 305.28,244.39 304.78,245.26 304.41,246.92 305.05,247.98 305.86,248.46 304.58,250.21 304.95,250.68 305.45,252.14 305.62,253.26 306.28,253.71 305.88,254.90 306.08,256.29 306.38,257.15 305.46,258.41 306.57,259.38 306.13,260.29 306.24,261.46 306.23,262.18 306.01,263.40 305.71,264.58 306.24,265.81 306.04,266.72 306.63,267.82 306.38,268.74 305.60,269.50 306.08,270.82 305.59,271.90 305.64,272.81 305.97,273.89 305.68,274.77 306.61,275.88 306.28,276.84 305.82,277.85 305.73,278.80 305.90,279.76 306.51,281.21 306.07,281.81 305.95,283.00 306.04,284.19 305.99,284.95 305.85,285.77 306.52,286.80 306.22,287.79 306.12,289.30 306.84,289.93 306.78,291.35 306.47,292.10 306.84,292.97 306.21,294.18 306.52,295.17 306.97,296.33 306.15,297.33 306.37,298.03 306.48,299.26 306.53,300.25 307.00,301.22 307.05,302.28 307.12,303.37 306.87,304.35 306.97,305.71 307.05,306.74 307.48,307.49 307.52,308.68 307.22,309.97 307.60,310.73 307.68,311.93 307.79,312.91 308.12,314.19 308.15,315.06 308.73,316.19 308.40,317.13 308.84,318.22 308.89,319.36 309.24,320.38 309.30,321.37 309.51,322.57 310.11,323.83 310.23,324.73 310.69,325.88 311.01,326.99 311.28,327.96 311.62,328.74 312.05,329.86 312.88,329.79 314.13,330.12 315.02,330.25 315.96,330.41 317.12,330.49 317.81,330.50 319.04,330.60 320.00,330.70 321.05,330.92 322.07,330.75 323.16,330.87 323.86,330.73 325.14,330.70 326.02,330.69 327.13,330.83 327.80,330.87 329.00,330.82 329.94,330.91 331.15,330.92 332.07,330.78 332.85,330.83 334.18,330.83 334.98,330.93 336.17,330.79 336.80,330.90 337.95,330.78 339.19,330.94 340.20,330.70 341.02,330.83 341.97,330.66 343.17,330.87 344.04,330.80 344.80,330.79 346.12,330.82 347.16,330.78 348.10,330.69 348.92,330.69 350.13,330.84 350.90,330.67 352.01,330.93 352.95,330.78 353.84,330.72 355.10,330.70 356.20,330.73 357.16,330.86 358.00,330.80" fill="none" stroke="#444" stroke-width="0.55" stroke-linejoin="round"/>
<polyline points="277.50,311.00 277.97,310.88 279.32,310.28 280.13,309.30 281.44,308.77 281.60,307.85 282.08,306.97 282.33,305.80 283.26,304.94 283.34,304.24 284.09,303.04 284.54,302.38 284.72,301.47 285.15,300.42 285.57,299.46 286.68,298.65 287.15,297.77 287.32,297.08 287.84,295.81 288.03,295.07 287.97,293.79 288.77,293.01 288.48,291.98 288.76,291.16 289.24,289.79 289.77,288.78 289.59,287.60 290.27,286.51 290.36,285.35 290.60,284.55 290.93,283.27 291.59,282.16 292.39,280.86 292.98,279.84 294.35,279.27 294.58,277.78 295.94,278.79 296.04,279.62 297.93,278.45 297.76,279.79 298.71,280.86 298.16,281.82 298.50,282.98 298.20,283.94 298.05,284.89 298.92,286.05 298.39,287.24 298.54,287.86 298.35,288.81 298.57,289.86 299.20,290.88 298.78,292.05 299.39,292.89 299.34,293.93 299.27,295.05 299.63,296.13 299.40,297.23 299.39,298.06 299.91,299.20 299.86,300.15 300.05,301.34 299.68,302.55 299.92,303.34 299.88,304.29 299.93,305.61 299.99,306.48 300.28,307.66 300.33,308.82 300.41,309.69 300.67,310.63 300.71,311.69 301.15,312.73 301.28,313.81 301.42,315.02 301.42,316.16 301.78,317.10 301.67,318.13 301.99,319.23 302.51,320.45 302.30,321.46 303.05,322.46 303.02,323.62 303.52,324.70 304.05,325.70 304.42,326.52 304.71,327.64 305.16,328.73 306.03,329.69 306.68,330.98 307.70,330.91 308.64,331.03 309.63,330.94 310.77,330.75 311.90,330.82 312.91,331.01 313.88,330.99 314.71,330.87 315.70,331.00 316.59,330.78 317.93,330.96 318.84,331.01 319.78,330.97 320.76,330.99 321.64,330.85 322.82,330.95 323.77,330.92 324.97,330.84 325.71,330.73 326.94,330.85 327.78,330.86 328.70,330.78 329.74,330.79 330.97,330.78 331.70,330.95 332.87,330.72 333.92,330.90 334.92,330.92 335.84,330.77 336.96,330.88 337.95,330.75 338.84,330.89 339.85,330.86 340.89,330.90 341.85,330.83 343.03,330.78 343.80,330.87 344.79,330.93 345.85,330.94 346.95,330.72 347.95,330.87 348.94,330.86 349.91,330.94 350.84,330.90 351.80,330.81 352.82,330.71 354.01,330.92 354.92,330.78 355.98,330.83 356.94,330.76 358.00,330.80" fill="none" stroke="#3a3a3a" stroke-width="0.95" stroke-dasharray="1 0.9"/>
<polyline points="365.00,330.50 366.20,329.96 367.10,329.68 368.21,329.31 369.17,329.18 370.16,328.95 370.83,328.33 372.00,327.88 372.74,327.44 373.97,327.21 375.01,326.31 376.14,325.70 376.86,324.99 377.88,324.16 378.88,323.55 379.81,323.04 380.78,322.17 381.46,321.53 381.81,320.67 382.10,319.55 382.75,319.00 383.61,318.08 383.74,317.05 384.48,315.95 384.35,314.98 384.95,314.33 385.37,313.21 385.70,312.17 386.16,311.18 385.80,310.10 386.37,309.04 386.58,307.98 386.39,306.81 386.89,306.06 386.70,304.70 386.86,303.75 387.29,302.94 387.36,301.59 386.92,300.81 387.84,299.40 387.60,298.49 388.14,297.24 387.44,296.59 388.02,295.36 388.33,294.38 388.37,293.17 387.91,292.00 388.26,291.29 388.42,290.09 388.78,289.24 388.87,287.99 389.23,287.21 389.42,286.23 388.61,285.06 389.08,283.86 389.38,282.68 389.21,282.13 389.41,281.05 389.88,279.63 389.54,278.75 390.05,277.54 389.37,276.38 390.39,275.67 389.56,274.68 390.20,273.31 390.67,272.12 389.75,271.21 390.63,270.29 390.38,269.47 390.37,268.31 389.97,267.23 390.27,266.06 391.29,264.98 391.05,263.83 391.40,262.62 390.79,261.67 391.30,260.27 391.42,259.44 391.00,258.53 392.00,257.18 392.25,256.65 392.07,255.20 391.60,253.98 391.71,253.63 391.50,252.55 392.58,251.44 391.77,250.32 392.05,249.33 393.08,248.36 392.79,247.48 392.41,245.88 393.55,244.78 392.94,244.06 393.81,243.01 393.41,242.10 393.37,241.02 393.46,240.07 393.50,238.87 394.45,238.29 393.39,237.21 393.11,235.62 394.75,234.41 394.45,234.09 394.46,232.56 393.51,231.49 394.40,230.74 394.37,229.70 394.51,228.49 395.27,227.00 395.75,226.21 394.96,225.64 395.34,224.08 394.85,222.65 396.11,221.79 396.11,220.83 396.36,219.33 397.22,218.42 396.36,217.79 398.29,216.03 398.76,217.45 398.04,218.21 399.84,218.66 399.46,219.88 398.60,221.69 400.39,222.53 400.13,223.41 399.58,224.75 400.45,225.96 399.94,227.02 399.93,228.24 400.89,229.26 399.99,229.96 401.29,231.01 400.83,231.82 399.98,232.99 401.05,234.05 401.12,234.97 401.29,236.58 400.64,237.24 400.74,238.51 400.74,239.35 401.89,241.00 400.92,241.70 401.86,243.12 401.80,243.83 402.23,245.05 402.22,245.92 402.47,246.46 402.48,247.62 401.92,248.77 402.27,249.93 402.46,250.73 402.21,252.00 403.16,252.80 401.87,254.17 403.26,255.18 402.97,255.88 402.23,257.27 402.86,257.70 403.21,258.67 402.96,260.09 403.63,260.94 402.87,261.95 403.82,262.79 402.98,263.99 404.16,265.39 404.26,265.83 403.73,266.92 403.92,268.38 403.88,269.33 404.16,270.23 403.81,271.08 404.25,272.59 404.58,273.58 404.45,274.43 404.05,275.12 404.44,276.19 404.61,277.63 403.89,278.68 404.45,279.65 403.75,280.35 403.83,281.78 403.96,282.51 404.54,283.51 404.44,284.67 404.19,285.86 404.52,286.78 404.61,287.74 404.07,288.93 404.95,289.52 404.48,290.61 404.36,291.85 404.76,292.66 404.91,293.98 404.70,294.99 405.28,296.12 405.69,297.18 405.24,297.83 405.31,298.91 405.86,300.04 405.71,301.25 405.74,302.41 406.00,303.26 405.71,304.14 406.23,305.26 406.25,306.49 406.43,307.51 406.30,308.22 406.45,309.55 406.63,310.22 406.72,311.56 407.03,312.17 407.34,313.15 407.79,314.39 407.80,315.39 407.76,316.40 408.35,317.36 408.26,318.42 408.96,319.24 408.78,320.23 409.21,321.20 409.32,322.35 409.98,323.15 410.65,324.26 410.77,325.16 411.49,326.08 412.10,327.23 412.78,328.04 413.11,329.00 414.36,329.35 415.53,329.55 416.66,329.75 417.96,329.95 418.83,330.31 420.14,330.47 421.09,330.44 421.86,330.66 422.91,330.61 423.93,330.49 425.17,330.67 426.32,330.52 427.01,330.66 428.36,330.72 429.13,330.66 430.37,330.73 431.50,330.71 432.53,330.53 433.62,330.69 434.62,330.57 435.49,330.79 436.71,330.72 437.71,330.57 438.41,330.65 439.77,330.79 440.61,330.86 441.68,330.65 442.89,330.83 443.95,330.86 444.77,330.90 445.80,330.80" fill="none" stroke="#1a1a1a" stroke-width="0.95" stroke-linejoin="round"/>
<polyline points="365.00,330.50 366.17,330.01 366.83,329.66 368.11,329.55 369.22,329.18 370.06,328.86 370.94,328.39 371.74,327.81 373.02,327.62 374.02,327.17 374.91,326.30 376.12,325.71 377.19,325.09 378.07,324.34 379.01,323.58 379.89,322.91 380.76,322.36 381.48,321.43 381.88,320.43 382.58,319.65 382.86,318.97 383.49,318.07 383.67,317.14 384.52,316.14 384.82,315.18 385.11,314.18 385.21,313.42 385.80,312.47 385.73,311.14 386.02,310.21 385.82,308.94 386.36,307.85 386.16,307.19 386.93,306.11 386.56,305.08 386.77,303.95 386.85,302.95 386.89,301.48 387.05,300.67 387.08,299.64 387.88,298.65 388.02,297.55 387.84,296.43 387.74,295.40 388.16,294.33 388.56,293.44 388.12,292.46 388.26,291.22 388.15,290.27 388.22,288.94 389.16,288.32 388.92,287.21 389.00,285.74 388.75,285.03 389.56,283.92 389.84,283.12 388.96,281.60 389.79,281.06 389.77,279.90 389.87,278.78 389.33,277.84 390.27,276.80 390.52,275.67 389.58,274.52 389.51,273.57 390.74,272.19 389.78,271.52 390.84,270.08 390.81,269.36 389.97,268.19 391.24,266.94 390.08,265.62 391.02,265.19 390.53,263.90 391.09,262.69 391.37,261.56 391.04,260.51 391.73,259.54 391.19,258.27 391.00,257.55 391.63,256.02 392.47,255.36 392.42,254.19 391.65,253.04 392.38,252.58 391.96,251.21 392.37,250.29 393.00,249.30 391.85,248.33 392.66,247.50 393.36,246.38 393.75,245.43 392.65,244.50 393.35,243.15 393.02,242.37 393.58,241.12 393.58,240.37 393.72,239.06 392.87,237.46 393.60,237.07 394.43,235.77 393.74,234.80 394.93,233.49 394.59,232.21 394.37,231.29 395.36,230.53 395.05,229.80 394.72,228.43 394.92,227.55 395.58,226.32 395.00,224.95 395.73,224.48 395.87,222.66 396.57,221.83 396.54,220.29 396.13,219.14 396.62,218.09 397.59,217.43 398.19,216.22 398.10,216.95 397.92,217.88 399.14,218.56 399.92,220.21 399.47,221.18 400.30,222.53 399.06,223.41 398.99,224.67 398.96,225.55 400.26,226.80 399.73,228.13 399.82,228.62 400.72,230.27 399.82,230.79 401.25,232.24 399.76,232.94 401.28,233.89 400.25,235.59 400.85,236.11 400.46,237.03 400.47,238.53 401.04,239.16 401.55,240.91 400.93,241.91 402.06,242.42 402.09,243.69 402.58,244.76 402.17,246.04 401.26,246.95 401.34,247.68 402.21,248.53 402.74,249.51 402.19,250.52 402.75,252.16 402.49,252.63 403.18,254.26 402.89,255.20 403.06,256.25 403.52,256.84 402.92,258.04 403.54,258.70 403.12,260.08 402.97,260.91 403.53,262.40 403.82,263.40 403.96,264.10 403.89,264.91 403.21,265.99 403.35,266.83 403.55,268.10 404.01,269.19 403.94,270.33 403.74,271.24 404.22,272.34 404.03,273.44 403.82,274.60 403.98,275.25 404.18,276.42 404.64,277.20 404.41,278.29 403.63,279.47 404.27,280.31 404.70,281.70 403.71,282.83 404.21,283.84 404.22,284.83 404.14,285.43 404.07,286.73 404.36,287.66 404.75,288.52 404.57,289.63 404.20,290.70 404.42,291.93 405.12,293.02 405.17,293.98 405.29,294.97 404.86,295.86 405.30,297.01 405.08,298.22 405.50,299.10 405.68,299.99 405.46,301.32 405.90,302.15 406.09,303.40 405.96,304.43 406.14,305.19 406.32,306.24 406.19,307.49 406.49,308.48 406.92,309.18 407.12,310.47 406.87,311.21 406.97,312.38 407.64,313.26 407.76,314.36 407.98,315.44 408.29,316.21 408.20,317.42 408.65,318.40 408.47,319.16 408.72,320.36 408.98,321.26 409.56,322.26 409.81,323.17 410.43,324.07 411.15,325.22 411.39,326.22 411.96,327.20 412.55,328.18 413.15,329.22 414.45,329.46 415.46,329.55 416.67,329.88 417.63,330.10 419.00,330.19 419.95,330.53 421.12,330.62 422.20,330.61 422.91,330.64 424.07,330.62 425.11,330.43 426.00,330.53 427.33,330.72 428.20,330.70 429.41,330.61 430.41,330.69 431.42,330.66 432.41,330.75 433.43,330.71 434.44,330.73 435.52,330.58 436.66,330.64 437.38,330.60 438.50,330.72 439.64,330.71 440.47,330.82 441.50,330.84 442.57,330.71 443.58,330.89 444.78,330.76 445.80,330.80" fill="none" stroke="#444" stroke-width="0.55" stroke-linejoin="round"/>
<polyline points="365.00,324.20 365.66,323.19 366.41,322.18 367.13,321.25 367.79,320.25 368.31,319.33 369.12,318.47 369.97,317.73 370.65,317.17 371.20,316.47 372.31,315.71 372.72,314.96 373.87,314.22 373.93,313.24 374.23,312.44 374.57,311.31 375.03,310.54 375.10,309.18 375.80,308.53 375.98,307.41 375.92,306.26 376.24,305.41 376.37,304.53 377.10,303.24 377.46,302.47 377.80,301.47 378.01,300.48 378.06,299.51 377.82,298.35 378.15,297.49 378.43,296.57 378.83,295.51 378.75,294.58 379.42,293.73 379.37,292.76 379.21,291.40 379.28,290.42 379.39,289.71 380.33,288.44 380.32,287.91 380.57,286.48 380.64,285.55 380.41,284.42 380.84,283.91 380.58,282.43 380.96,281.34 381.15,280.72 381.26,279.27 380.97,278.34 381.70,277.75 381.66,276.21 381.50,275.38 381.51,274.16 381.95,273.59 381.87,272.59 382.65,271.27 382.09,270.07 382.68,269.47 383.01,268.02 382.66,266.87 382.64,266.02 382.56,264.84 383.66,263.96 383.30,263.09 383.47,262.09 383.70,260.98 383.41,260.04 384.30,259.07 384.08,257.84 384.87,257.00 384.15,255.67 384.49,254.91 384.98,253.63 384.95,252.64 385.78,251.74 385.34,250.52 385.94,249.19 386.39,248.10 386.11,247.14 386.63,246.52 385.73,245.30 386.65,244.53 386.48,243.29 386.67,242.47 386.44,241.16 386.92,240.01 386.21,239.07 386.51,238.18 387.19,237.35 386.38,235.58 387.69,235.20 387.91,234.28 387.96,232.69 386.93,232.10 387.94,232.67 388.38,233.78 387.45,234.97 387.58,235.68 387.59,236.64 387.86,238.21 388.92,239.30 388.56,240.29 388.30,241.40 388.88,241.78 389.05,242.91 389.75,244.12 388.99,245.04 389.29,246.72 389.95,247.64 390.40,248.41 390.79,249.58 390.11,250.99 390.60,251.77 390.77,253.07 390.55,253.43 390.49,254.75 391.56,255.84 391.75,256.67 391.87,257.75 391.86,258.83 391.58,260.19 392.12,261.10 392.06,261.90 392.20,263.29 391.88,264.66 391.72,265.47 392.11,266.31 391.72,267.45 391.98,268.58 392.23,269.24 392.64,270.81 392.68,271.41 392.47,272.84 392.73,273.70 392.47,274.77 393.41,275.43 392.94,276.68 393.68,277.77 392.90,278.37 393.84,279.56 394.01,280.59 394.01,281.47 394.24,282.63 393.48,283.48 393.67,284.62 394.56,285.94 394.64,286.63 394.62,287.82 394.78,288.96 394.88,289.88 394.56,290.60 394.75,291.70 395.12,292.67 394.79,294.00 394.78,294.71 394.86,295.72 395.04,297.11 395.28,297.84 395.55,299.00 395.31,299.90 395.59,301.10 395.61,302.14 395.96,303.41 396.15,304.17 396.00,305.15 396.22,306.52 396.69,307.21 396.59,308.51 396.94,309.49 396.95,310.21 396.93,311.54 397.48,312.50 397.35,313.45 397.78,314.29 397.72,315.30 398.02,316.12 397.94,317.47 398.33,318.24 398.61,319.27 398.84,320.26 398.71,321.08 399.02,322.18 399.53,323.21 399.34,324.31 399.91,325.16 400.52,326.23 400.85,327.12 401.25,328.26 402.06,329.21 402.29,330.14 403.46,330.10 404.47,330.41 405.70,330.43 406.61,330.52 407.97,330.52 408.82,330.82 409.92,330.79 411.17,330.87 411.98,330.75 412.98,330.67 414.10,330.70 415.03,330.89 416.00,330.68 417.00,330.84 418.09,330.73 419.21,330.87 420.39,330.68 421.20,330.66 422.22,330.85 423.24,330.78 424.25,330.94 425.45,330.91 426.41,330.91 427.44,330.69 428.28,330.93 429.45,330.87 430.48,330.91 431.37,330.70 432.40,330.87 433.56,330.81 434.44,330.78 435.50,330.69 436.75,330.88 437.72,330.76 438.76,330.89 439.57,330.93 440.79,330.68 441.57,330.68 442.79,330.70 443.63,330.67 444.75,330.75 445.80,330.80" fill="none" stroke="#3a3a3a" stroke-width="0.95" stroke-dasharray="1 0.9"/>
<rect x="466.3" y="211.5" width="14.0" height="3.6" rx="1.8" fill="#c8c8c8" opacity="1.00" filter="url(#bl2)"/>
<rect x="466.3" y="218.4" width="13.7" height="2.2" rx="1.1" fill="#e0e0e0" opacity="1.00" filter="url(#bl2)"/>
<rect x="465.2" y="242.7" width="15.1" height="1.7" rx="0.8" fill="#4a4a4a" opacity="1.00" filter="url(#bl1)"/>
<rect x="466.1" y="245.9" width="13.5" height="2.0" rx="1.0" fill="#303030" opacity="1.00" filter="url(#bl1)"/>
<rect x="468.2" y="273.4" width="11.0" height="1.5" rx="0.8" fill="#777" opacity="1.00" filter="url(#bl1)"/>
<line x1="482.3" y1="207" x2="482.3" y2="228" stroke="#bbb" stroke-width="0.7" stroke-dasharray="1 1.2"/>
<line x1="482.0" y1="216.5" x2="495.7" y2="216.5" stroke="#000" stroke-width="1.6"/>
<line x1="482.0" y1="227.2" x2="495.7" y2="227.2" stroke="#000" stroke-width="1.6"/>
<line x1="482.0" y1="251.7" x2="495.7" y2="251.7" stroke="#000" stroke-width="1.6"/>
<line x1="482.0" y1="259.3" x2="495.7" y2="259.3" stroke="#000" stroke-width="1.6"/>
<line x1="482.0" y1="280.5" x2="495.7" y2="280.5" stroke="#000" stroke-width="1.6"/>
<line x1="482.0" y1="294.4" x2="495.7" y2="294.4" stroke="#000" stroke-width="1.6"/>
<line x1="482.0" y1="319.6" x2="495.7" y2="319.6" stroke="#000" stroke-width="1.6"/>
<line x1="482.0" y1="334.2" x2="495.7" y2="334.2" stroke="#000" stroke-width="1.6"/>
<text font-family="'Liberation Sans', Arial, Helvetica, sans-serif" font-weight="bold" font-size="16.00" fill="#111" stroke="#111" stroke-width="0.45" transform="matrix(1.0044 0 0 0.9739 1.449 12.257)">A</text>
<text font-family="'Liberation Sans', Arial, Helvetica, sans-serif" font-weight="bold" font-size="16.00" fill="#111" stroke="#111" stroke-width="0.45" transform="matrix(0.9951 0 0 0.9739 260.054 12.257)">B</text>
<text font-family="'Liberation Sans', Arial, Helvetica, sans-serif" font-weight="bold" font-size="16.00" fill="#111" stroke="#111" stroke-width="0.45" transform="matrix(0.9488 0 0 1.0174 0.526 200.646)">C</text>
<text font-family="'Liberation Sans', Arial, Helvetica, sans-serif" font-weight="bold" font-size="16.00" fill="#111" stroke="#111" stroke-width="0.45" transform="matrix(0.9951 0 0 0.9826 260.454 200.254)">D</text>
<text font-family="'Liberation Sans', Arial, Helvetica, sans-serif" font-weight="bold" font-size="9.50" fill="#111" stroke="#111" stroke-width="0.45" transform="matrix(1.0093 0 0 0.9000 21.800 24.475)">ANTXR2</text>
<text font-family="'Liberation Sans', Arial, Helvetica, sans-serif" font-weight="bold" font-size="9.50" fill="#111" stroke="#111" stroke-width="0.45" transform="matrix(0.9884 0 0 0.8571 275.406 21.386)">BAMBI</text>
<text font-family="'Liberation Sans', Arial, Helvetica, sans-serif" font-weight="bold" font-size="9.50" fill="#111" stroke="#111" stroke-width="0.45" transform="matrix(1.0172 0 0 0.9714 17.391 209.557)">DCBLD2</text>
<text font-family="'Liberation Sans', Arial, Helvetica, sans-serif" font-weight="bold" font-size="9.50" fill="#111" stroke="#111" stroke-width="0.45" transform="matrix(1.0377 0 0 0.9714 277.781 209.557)">ESAM</text>
<text font-family="'Liberation Sans', Arial, Helvetica, sans-serif" font-weight="bold" font-size="9.20" fill="#111" stroke="#111" stroke-width="0.45" transform="matrix(0.8429 0 0 0.9984 8.089 102.350) rotate(-90)">Counts</text>
<text font-family="'Liberation Sans', Arial, Helvetica, sans-serif" font-weight="bold" font-size="9.20" fill="#111" stroke="#111" stroke-width="0.45" transform="matrix(0.8429 0 0 1.0304 267.689 102.258) rotate(-90)">Counts</text>
<text font-family="'Liberation Sans', Arial, Helvetica, sans-serif" font-weight="bold" font-size="9.20" fill="#111" stroke="#111" stroke-width="0.45" transform="matrix(0.9857 0 0 1.0368 8.654 288.059) rotate(-90)">Counts</text>
<text font-family="'Liberation Sans', Arial, Helvetica, sans-serif" font-weight="bold" font-size="9.20" fill="#111" stroke="#111" stroke-width="0.45" transform="matrix(0.8571 0 0 1.0432 268.686 287.661) rotate(-90)">Counts</text>
<text font-family="'Liberation Sans', Arial, Helvetica, sans-serif" font-weight="bold" font-size="13.00" fill="#111" stroke="#111" stroke-width="0.10" transform="matrix(1.0500 0 0 1.0421 88.213 48.900)">i</text>
<text font-family="'Liberation Sans', Arial, Helvetica, sans-serif" font-weight="bold" font-size="13.00" fill="#111" stroke="#111" stroke-width="0.10" transform="matrix(1.0087 0 0 0.9895 178.343 48.700)">ii</text>
<text font-family="'Liberation Sans', Arial, Helvetica, sans-serif" font-weight="bold" font-size="13.00" fill="#111" stroke="#111" stroke-width="0.10" transform="matrix(1.2500 0 0 1.0316 348.462 48.900)">i</text>
<text font-family="'Liberation Sans', Arial, Helvetica, sans-serif" font-weight="bold" font-size="13.00" fill="#111" stroke="#111" stroke-width="0.10" transform="matrix(1.1304 0 0 1.0000 432.452 48.600)">ii</text>
<text font-family="'Liberation Sans', Arial, Helvetica, sans-serif" font-weight="bold" font-size="13.00" fill="#111" stroke="#111" stroke-width="0.10" transform="matrix(1.1000 0 0 1.0947 88.175 230.400)">i</text>
<text font-family="'Liberation Sans', Arial, Helvetica, sans-serif" font-weight="bold" font-size="13.00" fill="#111" stroke="#111" stroke-width="0.10" transform="matrix(1.0609 0 0 1.0737 178.204 230.400)">ii</text>
<text font-family="'Liberation Sans', Arial, Helvetica, sans-serif" font-weight="bold" font-size="13.00" fill="#111" stroke="#111" stroke-width="0.10" transform="matrix(1.0500 0 0 1.0526 348.212 230.000)">i</text>
<text font-family="'Liberation Sans', Arial, Helvetica, sans-serif" font-weight="bold" font-size="13.00" fill="#111" stroke="#111" stroke-width="0.10" transform="matrix(1.1130 0 0 1.0316 432.165 229.800)">ii</text>
<text font-family="'Liberation Sans', Arial, Helvetica, sans-serif" font-weight="bold" font-size="9.80" fill="#111" stroke="#111" stroke-width="0.45" transform="matrix(1.0020 0 0 0.9500 62.599 165.688)">FL2 – log<tspan font-size="6.27" dy="2.40">10</tspan><tspan dy="-2.40"> scale</tspan></text>
<text font-family="'Liberation Sans', Arial, Helvetica, sans-serif" font-weight="bold" font-size="9.80" fill="#111" stroke="#111" stroke-width="0.45" transform="matrix(1.0046 0 0 0.9500 322.398 165.587)">FL2 – log<tspan font-size="6.27" dy="2.40">10</tspan><tspan dy="-2.40"> scale</tspan></text>
<text font-family="'Liberation Sans', Arial, Helvetica, sans-serif" font-weight="bold" font-size="9.80" fill="#111" stroke="#111" stroke-width="0.45" transform="matrix(1.0020 0 0 0.9500 62.599 350.387)">FL2 – log<tspan font-size="6.27" dy="2.40">10</tspan><tspan dy="-2.40"> scale</tspan></text>
<text font-family="'Liberation Sans', Arial, Helvetica, sans-serif" font-weight="bold" font-size="9.80" fill="#111" stroke="#111" stroke-width="0.45" transform="matrix(0.9967 0 0 0.9500 323.502 351.087)">FL2 – log<tspan font-size="6.27" dy="2.40">10</tspan><tspan dy="-2.40"> scale</tspan></text>
<text font-family="'Liberation Sans', Arial, Helvetica, sans-serif" font-weight="bold" font-size="9.30" fill="#111" stroke="#111" stroke-width="0.45" transform="matrix(0.9854 0 0 0.9571 233.500 75.761)">98</text>
<text font-family="'Liberation Sans', Arial, Helvetica, sans-serif" font-weight="bold" font-size="9.30" fill="#111" stroke="#111" stroke-width="0.45" transform="matrix(0.9854 0 0 0.9571 233.500 99.461)">52</text>
<text font-family="'Liberation Sans', Arial, Helvetica, sans-serif" font-weight="bold" font-size="9.30" fill="#111" stroke="#111" stroke-width="0.45" transform="matrix(0.8878 0 0 0.9571 233.900 126.661)">31</text>
<text font-family="'Liberation Sans', Arial, Helvetica, sans-serif" font-weight="bold" font-size="9.30" fill="#111" stroke="#111" stroke-width="0.45" transform="matrix(1.0366 0 0 0.9571 496.841 33.661)">66.3</text>
<text font-family="'Liberation Sans', Arial, Helvetica, sans-serif" font-weight="bold" font-size="9.30" fill="#111" stroke="#111" stroke-width="0.45" transform="matrix(1.0082 0 0 0.9630 497.100 43.359)">55.4</text>
<text font-family="'Liberation Sans', Arial, Helvetica, sans-serif" font-weight="bold" font-size="9.30" fill="#111" stroke="#111" stroke-width="0.45" transform="matrix(1.0333 0 0 0.9429 497.100 68.864)">36.5</text>
<text font-family="'Liberation Sans', Arial, Helvetica, sans-serif" font-weight="bold" font-size="9.30" fill="#111" stroke="#111" stroke-width="0.45" transform="matrix(0.8683 0 0 0.8714 497.100 77.682)">31</text>
<text font-family="'Liberation Sans', Arial, Helvetica, sans-serif" font-weight="bold" font-size="9.30" fill="#111" stroke="#111" stroke-width="0.45" transform="matrix(1.0333 0 0 0.9000 497.100 96.475)">21.5</text>
<text font-family="'Liberation Sans', Arial, Helvetica, sans-serif" font-weight="bold" font-size="9.30" fill="#111" stroke="#111" stroke-width="0.45" transform="matrix(1.0000 0 0 0.9185 497.450 111.570)">14.4</text>
<text font-family="'Liberation Sans', Arial, Helvetica, sans-serif" font-weight="bold" font-size="9.30" fill="#111" stroke="#111" stroke-width="0.45" transform="matrix(1.0316 0 0 0.9286 496.842 135.568)">6</text>
<text font-family="'Liberation Sans', Arial, Helvetica, sans-serif" font-weight="bold" font-size="9.30" fill="#111" stroke="#111" stroke-width="0.45" transform="matrix(1.0353 0 0 0.9000 497.100 151.175)">3.5</text>
<text font-family="'Liberation Sans', Arial, Helvetica, sans-serif" font-weight="bold" font-size="9.30" fill="#111" stroke="#111" stroke-width="0.45" transform="matrix(1.0146 0 0 0.9857 235.300 260.554)">98</text>
<text font-family="'Liberation Sans', Arial, Helvetica, sans-serif" font-weight="bold" font-size="9.30" fill="#111" stroke="#111" stroke-width="0.45" transform="matrix(1.0146 0 0 0.9286 235.300 284.268)">52</text>
<text font-family="'Liberation Sans', Arial, Helvetica, sans-serif" font-weight="bold" font-size="9.30" fill="#111" stroke="#111" stroke-width="0.45" transform="matrix(0.9268 0 0 1.0000 235.500 311.650)">31</text>
<text font-family="'Liberation Sans', Arial, Helvetica, sans-serif" font-weight="bold" font-size="9.30" fill="#111" stroke="#111" stroke-width="0.45" transform="matrix(0.9972 0 0 0.8571 499.951 221.086)">66.3</text>
<text font-family="'Liberation Sans', Arial, Helvetica, sans-serif" font-weight="bold" font-size="9.30" fill="#111" stroke="#111" stroke-width="0.45" transform="matrix(0.9753 0 0 0.9778 500.200 231.556)">55.4</text>
<text font-family="'Liberation Sans', Arial, Helvetica, sans-serif" font-weight="bold" font-size="9.30" fill="#111" stroke="#111" stroke-width="0.45" transform="matrix(1.0222 0 0 0.9286 500.100 256.268)">36.5</text>
<text font-family="'Liberation Sans', Arial, Helvetica, sans-serif" font-weight="bold" font-size="9.30" fill="#111" stroke="#111" stroke-width="0.45" transform="matrix(0.8878 0 0 0.9714 500.100 265.557)">31</text>
<text font-family="'Liberation Sans', Arial, Helvetica, sans-serif" font-weight="bold" font-size="9.30" fill="#111" stroke="#111" stroke-width="0.45" transform="matrix(0.9889 0 0 0.9429 500.100 284.464)">21.5</text>
<text font-family="'Liberation Sans', Arial, Helvetica, sans-serif" font-weight="bold" font-size="9.30" fill="#111" stroke="#111" stroke-width="0.45" transform="matrix(0.9611 0 0 0.9926 500.460 300.052)">14.4</text>
<text font-family="'Liberation Sans', Arial, Helvetica, sans-serif" font-weight="bold" font-size="9.30" fill="#111" stroke="#111" stroke-width="0.45" transform="matrix(1.0316 0 0 0.9000 499.842 323.575)">6</text>
<text font-family="'Liberation Sans', Arial, Helvetica, sans-serif" font-weight="bold" font-size="9.30" fill="#111" stroke="#111" stroke-width="0.45" transform="matrix(1.0118 0 0 0.9714 500.100 339.657)">3.5</text>
</svg>
</body></html>
